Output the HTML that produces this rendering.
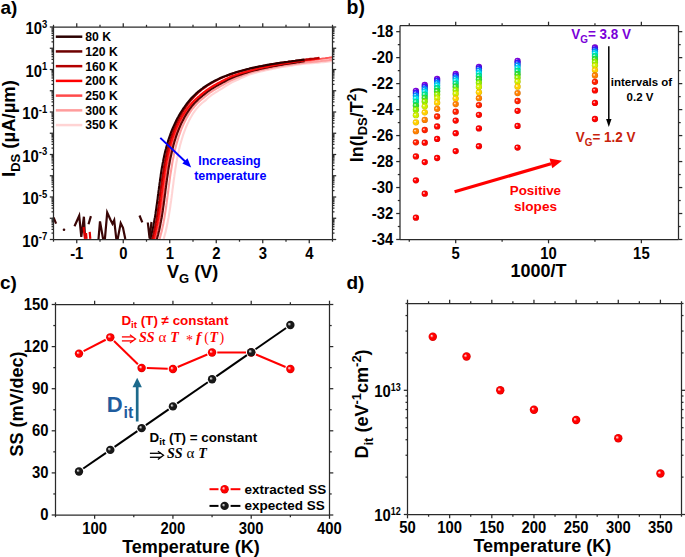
<!DOCTYPE html>
<html><head><meta charset="utf-8"><style>
html,body{margin:0;padding:0;background:#fff;}
svg{display:block;}
</style></head><body>
<svg width="685" height="557" viewBox="0 0 685 557">
<defs><radialGradient id="g0" cx="0.5" cy="0.5" r="0.5" fx="0.33" fy="0.36"><stop offset="0" stop-color="#f2e6fc"/><stop offset="0.14" stop-color="#d7b2f6"/><stop offset="0.42" stop-color="#7a00e0"/><stop offset="0.8" stop-color="#7a00e0"/><stop offset="1" stop-color="#6400b8"/></radialGradient>
<radialGradient id="g1" cx="0.5" cy="0.5" r="0.5" fx="0.33" fy="0.36"><stop offset="0" stop-color="#eae9ff"/><stop offset="0.14" stop-color="#c1bcff"/><stop offset="0.42" stop-color="#3020ff"/><stop offset="0.8" stop-color="#3020ff"/><stop offset="1" stop-color="#271ad1"/></radialGradient>
<radialGradient id="g2" cx="0.5" cy="0.5" r="0.5" fx="0.33" fy="0.36"><stop offset="0" stop-color="#e6f4ff"/><stop offset="0.14" stop-color="#b2deff"/><stop offset="0.42" stop-color="#0090ff"/><stop offset="0.8" stop-color="#0090ff"/><stop offset="1" stop-color="#0076d1"/></radialGradient>
<radialGradient id="g3" cx="0.5" cy="0.5" r="0.5" fx="0.33" fy="0.36"><stop offset="0" stop-color="#e6fcfe"/><stop offset="0.14" stop-color="#b2f6fa"/><stop offset="0.42" stop-color="#00e0f0"/><stop offset="0.8" stop-color="#00e0f0"/><stop offset="1" stop-color="#00b8c5"/></radialGradient>
<radialGradient id="g4" cx="0.5" cy="0.5" r="0.5" fx="0.33" fy="0.36"><stop offset="0" stop-color="#e6fdf4"/><stop offset="0.14" stop-color="#b2f8de"/><stop offset="0.42" stop-color="#00e890"/><stop offset="0.8" stop-color="#00e890"/><stop offset="1" stop-color="#00be76"/></radialGradient>
<radialGradient id="g5" cx="0.5" cy="0.5" r="0.5" fx="0.33" fy="0.36"><stop offset="0" stop-color="#eafcea"/><stop offset="0.14" stop-color="#c1f6c1"/><stop offset="0.42" stop-color="#30e030"/><stop offset="0.8" stop-color="#30e030"/><stop offset="1" stop-color="#27b827"/></radialGradient>
<radialGradient id="g6" cx="0.5" cy="0.5" r="0.5" fx="0.33" fy="0.36"><stop offset="0" stop-color="#f4fee6"/><stop offset="0.14" stop-color="#defab2"/><stop offset="0.42" stop-color="#90f000"/><stop offset="0.8" stop-color="#90f000"/><stop offset="1" stop-color="#76c500"/></radialGradient>
<radialGradient id="g7" cx="0.5" cy="0.5" r="0.5" fx="0.33" fy="0.36"><stop offset="0" stop-color="#fafee6"/><stop offset="0.14" stop-color="#f1fab2"/><stop offset="0.42" stop-color="#d0f000"/><stop offset="0.8" stop-color="#d0f000"/><stop offset="1" stop-color="#abc500"/></radialGradient>
<radialGradient id="g8" cx="0.5" cy="0.5" r="0.5" fx="0.33" fy="0.36"><stop offset="0" stop-color="#fffae6"/><stop offset="0.14" stop-color="#fff1b2"/><stop offset="0.42" stop-color="#ffd000"/><stop offset="0.8" stop-color="#ffd000"/><stop offset="1" stop-color="#d1ab00"/></radialGradient>
<radialGradient id="g9" cx="0.5" cy="0.5" r="0.5" fx="0.33" fy="0.36"><stop offset="0" stop-color="#fff2e6"/><stop offset="0.14" stop-color="#ffd9b2"/><stop offset="0.42" stop-color="#ff8000"/><stop offset="0.8" stop-color="#ff8000"/><stop offset="1" stop-color="#d16900"/></radialGradient>
<radialGradient id="g10" cx="0.5" cy="0.5" r="0.5" fx="0.33" fy="0.36"><stop offset="0" stop-color="#ffe9e6"/><stop offset="0.14" stop-color="#ffbcb2"/><stop offset="0.42" stop-color="#ff2000"/><stop offset="0.8" stop-color="#ff2000"/><stop offset="1" stop-color="#d11a00"/></radialGradient>
<radialGradient id="g11" cx="0.5" cy="0.5" r="0.5" fx="0.33" fy="0.36"><stop offset="0" stop-color="#ffe6e6"/><stop offset="0.14" stop-color="#ffb5b2"/><stop offset="0.42" stop-color="#ff0800"/><stop offset="0.8" stop-color="#ff0800"/><stop offset="1" stop-color="#d10700"/></radialGradient>
<radialGradient id="g12" cx="0.5" cy="0.5" r="0.5" fx="0.33" fy="0.36"><stop offset="0" stop-color="#ffe6e6"/><stop offset="0.14" stop-color="#ffb2b2"/><stop offset="0.42" stop-color="#ff0000"/><stop offset="0.8" stop-color="#ff0000"/><stop offset="1" stop-color="#d10000"/></radialGradient>
<radialGradient id="g13" cx="0.5" cy="0.5" r="0.5" fx="0.33" fy="0.36"><stop offset="0" stop-color="#e8e8e8"/><stop offset="0.14" stop-color="#bababa"/><stop offset="0.42" stop-color="#181818"/><stop offset="0.8" stop-color="#181818"/><stop offset="1" stop-color="#141414"/></radialGradient></defs>
<rect width="685" height="557" fill="#fff"/>
<text x="0.5" y="14.2" font-size="19" text-anchor="start" fill="#000" font-weight="bold" font-family='"Liberation Sans", sans-serif'>a)</text>
<g fill="none" stroke-width="2.1" stroke-linejoin="round" stroke-linecap="butt">
<polyline points="163.2,240.5 163.8,238.6 164.3,236.7 164.8,234.8 165.3,232.9 165.8,231.1 166.2,229.2 166.6,227.3 167.0,225.4 167.4,223.5 167.8,221.6 168.1,219.8 168.5,217.9 168.8,216.0 169.1,214.1 169.4,212.2 169.7,210.3 170.0,208.5 170.3,206.6 170.5,204.7 170.8,202.8 171.1,200.9 171.3,199.1 171.6,197.2 171.8,195.3 172.1,193.4 172.3,191.6 172.5,189.7 172.8,187.8 173.0,186.0 173.3,184.1 173.5,182.2 173.7,180.4 174.0,178.5 174.3,176.7 174.5,174.8 174.8,173.0 175.1,171.1 175.3,169.3 175.6,167.5 175.9,165.6 176.2,163.8 176.5,162.0 176.9,160.2 177.2,158.4 177.6,156.6 177.9,154.8 178.3,153.1 178.7,151.3 179.1,149.6 179.5,147.8 179.9,146.1 180.3,144.4 180.8,142.7 181.3,141.0 181.8,139.3 182.3,137.7 182.8,136.0 183.3,134.4 183.9,132.8 184.5,131.2 185.1,129.6 185.7,128.0 186.3,126.5 187.0,125.0 187.6,123.5 188.3,122.1 189.0,120.6 189.8,119.2 190.5,117.8 191.3,116.5 192.0,115.2 192.8,113.9 193.6,112.7 194.5,111.5 195.3,110.3 196.2,109.2 197.1,108.1 198.0,107.1 198.9,106.1 199.8,105.1 200.8,104.2 201.8,103.3 202.8,102.5 203.8,101.7 204.9,100.9 206.0,99.9 207.1,98.8 208.3,97.8 209.5,96.8 210.8,95.7 212.1,94.7 213.4,93.8 214.8,92.9 216.2,92.0 217.7,91.1 219.1,90.2 220.6,89.3 222.2,88.3 223.7,87.3 225.3,86.3 226.9,85.3 228.6,84.4 230.2,83.4 231.9,82.4 233.6,81.6 235.3,80.8 237.0,80.0 238.8,79.2 240.5,78.4 242.3,77.6 244.1,76.9 245.9,76.1 247.6,75.4 249.5,74.6 251.3,74.0 253.1,73.5 254.9,73.0 256.7,72.5 258.5,72.1 260.4,71.6 262.2,71.2 264.0,70.8 265.9,70.3 267.7,69.9 269.5,69.5 271.4,69.1 273.2,68.7 275.1,68.4 276.9,68.0 278.8,67.6 280.6,67.3 282.5,66.9 284.3,66.7 286.2,66.4 288.0,66.1 289.9,65.8 291.7,65.6 293.6,65.3 295.5,65.0 297.3,64.8 299.2,64.5 301.0,64.2 302.9,64.0 304.8,63.7 306.6,63.5 308.5,63.4 310.3,63.2 312.2,63.1 314.1,62.9 315.9,62.8 317.8,62.6 319.7,62.4 321.5,62.3 323.4,62.1 325.2,61.9 327.1,61.7 329.0,61.5 330.8,61.3 332.7,61.1" stroke="#ffd4d4"/>
<polyline points="159.3,240.2 159.8,238.3 160.3,236.5 160.8,234.6 161.3,232.7 161.8,230.9 162.2,229.0 162.6,227.1 163.0,225.2 163.4,223.4 163.7,221.5 164.1,219.6 164.4,217.8 164.7,215.9 165.0,214.0 165.3,212.1 165.6,210.3 165.9,208.4 166.2,206.5 166.4,204.6 166.7,202.7 166.9,200.9 167.2,199.0 167.4,197.1 167.7,195.2 167.9,193.4 168.2,191.5 168.4,189.6 168.6,187.8 168.9,185.9 169.1,184.0 169.4,182.1 169.6,180.3 169.9,178.4 170.1,176.6 170.4,174.7 170.7,172.9 171.0,171.0 171.3,169.2 171.6,167.3 171.9,165.5 172.2,163.7 172.5,161.8 172.8,160.0 173.2,158.2 173.6,156.4 173.9,154.6 174.3,152.8 174.7,151.0 175.1,149.3 175.6,147.5 176.0,145.8 176.5,144.0 177.0,142.3 177.5,140.6 178.0,138.9 178.5,137.2 179.1,135.5 179.7,133.8 180.3,132.2 180.9,130.5 181.5,128.9 182.2,127.3 182.9,125.7 183.6,124.1 184.3,122.6 185.1,121.1 185.8,119.6 186.6,118.1 187.4,116.7 188.2,115.3 189.1,113.9 189.9,112.5 190.8,111.2 191.7,109.9 192.7,108.7 193.6,107.5 194.6,106.3 195.6,105.2 196.6,104.1 197.6,103.0 198.7,102.0 199.8,101.0 200.9,100.0 202.0,99.1 203.2,98.2 204.4,97.2 205.6,96.1 206.9,95.1 208.2,94.1 209.6,93.0 211.0,92.0 212.4,91.1 213.8,90.2 215.3,89.3 216.8,88.4 218.3,87.5 219.9,86.6 221.5,85.7 223.1,84.8 224.7,83.9 226.3,82.9 228.0,82.0 229.7,81.1 231.4,80.3 233.1,79.5 234.9,78.7 236.6,78.0 238.4,77.3 240.2,76.5 242.0,75.8 243.8,75.1 245.6,74.4 247.4,73.8 249.2,73.1 251.0,72.5 252.9,72.0 254.7,71.6 256.5,71.1 258.4,70.7 260.2,70.2 262.0,69.8 263.9,69.4 265.7,69.0 267.6,68.6 269.4,68.2 271.3,67.9 273.1,67.5 275.0,67.1 276.8,66.8 278.7,66.4 280.5,66.1 282.4,65.8 284.2,65.5 286.1,65.2 288.0,65.0 289.8,64.7 291.7,64.4 293.5,64.2 295.4,63.9 297.3,63.7 299.1,63.4 301.0,63.2 302.8,62.9 304.7,62.6 306.6,62.5 308.4,62.3 310.3,62.1 312.1,61.9 314.0,61.7 315.9,61.6 317.7,61.4 319.6,61.2 321.4,61.0 323.3,60.8 325.2,60.6 327.0,60.4 328.9,60.2 330.7,59.9 332.6,59.7" stroke="#ff9c9c"/>
<polyline points="155.0,240.0 155.5,238.1 156.0,236.3 156.5,234.4 156.9,232.5 157.4,230.7 157.8,228.8 158.2,227.0 158.5,225.1 158.9,223.3 159.3,221.4 159.6,219.5 159.9,217.7 160.2,215.8 160.5,213.9 160.8,212.0 161.1,210.2 161.4,208.3 161.6,206.4 161.9,204.6 162.2,202.7 162.4,200.8 162.7,198.9 162.9,197.1 163.2,195.2 163.4,193.3 163.6,191.4 163.9,189.6 164.1,187.7 164.4,185.8 164.6,183.9 164.9,182.1 165.1,180.2 165.4,178.3 165.6,176.5 165.9,174.6 166.2,172.8 166.5,170.9 166.8,169.1 167.1,167.2 167.4,165.4 167.7,163.5 168.1,161.7 168.4,159.9 168.8,158.1 169.2,156.2 169.6,154.4 170.0,152.6 170.4,150.8 170.8,149.1 171.3,147.3 171.8,145.5 172.3,143.7 172.8,142.0 173.3,140.2 173.9,138.5 174.4,136.8 175.0,135.1 175.7,133.4 176.3,131.7 177.0,130.0 177.7,128.3 178.4,126.7 179.1,125.1 179.9,123.5 180.7,121.9 181.5,120.3 182.3,118.8 183.1,117.2 184.0,115.8 184.9,114.3 185.8,112.8 186.8,111.4 187.8,110.0 188.7,108.7 189.8,107.4 190.8,106.1 191.9,104.8 193.0,103.6 194.1,102.4 195.2,101.3 196.4,100.2 197.6,99.1 198.8,98.1 200.1,97.0 201.3,95.9 202.7,94.8 204.0,93.7 205.4,92.6 206.8,91.6 208.2,90.6 209.7,89.6 211.2,88.6 212.7,87.6 214.3,86.7 215.8,85.8 217.4,84.9 219.0,84.0 220.7,83.1 222.3,82.1 224.0,81.2 225.7,80.3 227.4,79.4 229.2,78.6 230.9,77.7 232.7,77.1 234.5,76.4 236.2,75.7 238.0,75.1 239.8,74.5 241.7,73.9 243.5,73.3 245.3,72.7 247.1,72.1 249.0,71.6 250.8,71.0 252.6,70.6 254.5,70.1 256.3,69.6 258.2,69.2 260.0,68.8 261.9,68.4 263.7,67.9 265.6,67.5 267.4,67.2 269.3,66.8 271.1,66.4 273.0,66.0 274.9,65.7 276.7,65.3 278.6,65.0 280.4,64.6 282.3,64.3 284.2,64.0 286.0,63.7 287.9,63.4 289.7,63.1 291.6,62.8 293.5,62.5 295.3,62.2 297.2,62.0 299.0,61.7 300.9,61.4 302.8,61.1 304.6,60.8 306.5,60.6 308.3,60.4 310.2,60.2 312.1,59.9 313.9,59.7 315.8,59.5 317.6,59.3 319.5,59.0 321.3,58.8 323.2,58.5 325.1,58.3 326.9,58.0 328.8,57.8 330.6,57.5 332.5,57.2" stroke="#ff5a5a"/>
<polyline points="156.7,240.0 157.2,238.1 157.7,236.3 158.2,234.4 158.6,232.6 159.1,230.7 159.5,228.9 159.9,227.0 160.3,225.1 160.6,223.3 161.0,221.4 161.3,219.5 161.7,217.7 162.0,215.8 162.3,213.9 162.6,212.1 162.9,210.2 163.1,208.3 163.4,206.4 163.7,204.6 163.9,202.7 164.2,200.8 164.4,198.9 164.7,197.1 164.9,195.2 165.2,193.3 165.4,191.4 165.6,189.6 165.9,187.7 166.1,185.8 166.4,184.0 166.6,182.1 166.9,180.2 167.1,178.4 167.4,176.5 167.7,174.6 168.0,172.8 168.2,170.9 168.5,169.1 168.8,167.2 169.1,165.4 169.5,163.6 169.8,161.7 170.1,159.9 170.5,158.1 170.9,156.3 171.3,154.5 171.7,152.7 172.1,150.9 172.5,149.1 173.0,147.3 173.4,145.5 173.9,143.8 174.4,142.0 174.9,140.3 175.5,138.5 176.0,136.8 176.6,135.1 177.2,133.4 177.9,131.7 178.5,130.1 179.2,128.4 179.9,126.8 180.6,125.1 181.3,123.5 182.1,122.0 182.9,120.4 183.7,118.9 184.5,117.3 185.3,115.9 186.2,114.4 187.1,113.0 188.0,111.6 189.0,110.2 189.9,108.8 190.9,107.5 191.9,106.2 192.9,105.0 194.0,103.8 195.1,102.6 196.2,101.5 197.3,100.4 198.4,99.3 199.6,98.3 200.8,97.3 202.1,96.2 203.3,95.1 204.6,94.1 206.0,93.0 207.3,91.9 208.8,90.9 210.2,89.9 211.6,88.9 213.1,88.0 214.7,87.1 216.2,86.2 217.8,85.3 219.4,84.4 221.0,83.5 222.6,82.6 224.3,81.7 226.0,80.8 227.7,79.9 229.4,79.0 231.1,78.2 232.9,77.5 234.6,76.8 236.4,76.1 238.2,75.5 240.0,74.8 241.8,74.2 243.6,73.6 245.4,73.0 247.2,72.4 249.1,71.8 250.9,71.3 252.7,70.8 254.6,70.3 256.4,69.9 258.3,69.4 260.1,69.0 261.9,68.6 263.8,68.2 265.6,67.8 267.5,67.4 269.3,67.0 271.2,66.7 273.0,66.3 274.9,65.9 276.8,65.6 278.6,65.3 280.5,64.9 282.3,64.6 284.2,64.3 286.0,64.0 287.9,63.7 289.8,63.4 291.6,63.2 293.5,62.9 295.3,62.6 297.2,62.3 299.1,62.1 300.9,61.8 302.8,61.5 304.6,61.2" stroke="#5a0505"/>
<polyline points="153.5,239.8 154.0,238.0 154.5,236.1 155.0,234.3 155.4,232.5 155.8,230.6 156.2,228.8 156.6,226.9 157.0,225.0 157.4,223.2 157.7,221.3 158.0,219.5 158.4,217.6 158.7,215.7 159.0,213.9 159.3,212.0 159.5,210.1 159.8,208.3 160.1,206.4 160.3,204.5 160.6,202.7 160.8,200.8 161.1,198.9 161.3,197.0 161.6,195.2 161.8,193.3 162.1,191.4 162.3,189.5 162.5,187.7 162.8,185.8 163.0,183.9 163.3,182.0 163.5,180.2 163.8,178.3 164.1,176.4 164.4,174.6 164.6,172.7 164.9,170.9 165.2,169.0 165.5,167.2 165.9,165.3 166.2,163.5 166.5,161.6 166.9,159.8 167.3,158.0 167.6,156.2 168.0,154.3 168.5,152.5 168.9,150.7 169.3,148.9 169.8,147.1 170.3,145.4 170.8,143.6 171.3,141.8 171.9,140.1 172.4,138.3 173.0,136.6 173.6,134.9 174.3,133.1 174.9,131.4 175.6,129.7 176.3,128.1 177.0,126.4 177.8,124.7 178.6,123.1 179.4,121.5 180.2,119.9 181.1,118.3 181.9,116.8 182.8,115.3 183.8,113.8 184.7,112.3 185.7,110.9 186.7,109.4 187.7,108.1 188.8,106.7 189.8,105.4 190.9,104.1 192.1,102.8 193.2,101.6 194.4,100.4 195.6,99.3 196.8,98.2 198.1,97.1 199.4,96.0 200.7,94.8 202.1,93.7 203.4,92.6 204.8,91.5 206.3,90.4 207.8,89.4 209.3,88.4 210.8,87.4 212.3,86.5 213.9,85.5 215.5,84.6 217.1,83.7 218.8,82.8 220.4,81.9 222.1,81.0 223.8,80.1 225.5,79.3 227.2,78.4 229.0,77.6 230.7,76.8 232.5,76.1 234.3,75.5 236.1,74.8 237.9,74.2 239.7,73.6 241.5,73.1 243.4,72.5 245.2,71.9 247.0,71.4 248.9,70.9 250.7,70.4 252.6,69.9 254.4,69.5 256.3,69.0 258.1,68.6 260.0,68.2 261.8,67.7 263.7,67.3 265.5,67.0 267.4,66.6 269.2,66.2 271.1,65.8 273.0,65.5 274.8,65.1 276.7,64.8 278.5,64.4 280.4,64.1 282.3,63.8 284.1,63.5 286.0,63.2 287.8,62.9 289.7,62.6 291.6,62.3 293.4,62.0 295.3,61.7 297.2,61.4 299.0,61.1 300.9,60.9 302.7,60.6 304.6,60.3 306.5,60.0 308.3,59.8 310.2,59.6 312.0,59.3 313.9,59.1 315.7,58.9 317.6,58.6 319.5,58.4" stroke="#ff0a0a"/>
<polyline points="152.0,239.4 152.5,237.6 153.0,235.8 153.5,234.0 153.9,232.1 154.3,230.3 154.7,228.5 155.1,226.6 155.5,224.8 155.8,223.0 156.2,221.1 156.5,219.3 156.8,217.4 157.1,215.6 157.4,213.7 157.7,211.9 158.0,210.0 158.2,208.1 158.5,206.3 158.8,204.4 159.0,202.5 159.3,200.7 159.5,198.8 159.8,196.9 160.0,195.1 160.2,193.2 160.5,191.3 160.7,189.4 161.0,187.6 161.2,185.7 161.5,183.8 161.7,181.9 162.0,180.1 162.2,178.2 162.5,176.3 162.8,174.4 163.1,172.6 163.4,170.7 163.7,168.8 164.0,167.0 164.3,165.1 164.6,163.3 165.0,161.4 165.3,159.6 165.7,157.7 166.1,155.9 166.5,154.0 166.9,152.2 167.4,150.4 167.8,148.5 168.3,146.7 168.8,144.9 169.3,143.1 169.9,141.3 170.4,139.5 171.0,137.7 171.6,135.9 172.2,134.1 172.9,132.3 173.5,130.5 174.2,128.8 175.0,127.0 175.7,125.3 176.5,123.6 177.3,121.9 178.1,120.2 179.0,118.5 179.8,116.8 180.7,115.2 181.7,113.6 182.6,112.0 183.6,110.4 184.6,108.8 185.6,107.3 186.7,105.8 187.7,104.3 188.9,102.9 190.0,101.4 191.1,100.0 192.3,98.7 193.6,97.3 194.8,96.0 196.1,94.8 197.4,93.5 198.7,92.3 200.1,91.1 201.4,90.0 202.9,88.9 204.3,87.8 205.8,86.8 207.3,85.7 208.8,84.8 210.4,83.8 211.9,82.9 213.5,82.0 215.2,81.1 216.8,80.3 218.5,79.4 220.1,78.6 221.8,77.9 223.6,77.1 225.3,76.4 227.0,75.7 228.8,75.0 230.6,74.4 232.4,73.7 234.2,73.1 236.0,72.6 237.8,72.0 239.6,71.4 241.4,70.9 243.3,70.4 245.1,69.9 246.9,69.4 248.8,69.0 250.6,68.5 252.5,68.1 254.3,67.7 256.2,67.3 258.1,66.9 259.9,66.5 261.8,66.1 263.6,65.8 265.5,65.4 267.3,65.1 269.2,64.8 271.1,64.4 272.9,64.1 274.8,63.8 276.6,63.5 278.5,63.2 280.4,62.9 282.2,62.7 284.1,62.4 286.0,62.1 287.8,61.9 289.7,61.6 291.5,61.4 293.4,61.1 295.3,60.9 297.1,60.6 299.0,60.4 300.8,60.1 302.7,59.9 304.6,59.7 306.4,59.4 308.3,59.2 310.1,58.9 312.0,58.7 313.9,58.5 315.7,58.2 317.6,58.0 319.4,57.7" stroke="#b40000"/>
<polyline points="150.2,239.3 150.7,237.5 151.1,235.7 151.6,233.9 152.0,232.1 152.4,230.3 152.8,228.5 153.2,226.6 153.5,224.8 153.9,222.9 154.2,221.1 154.5,219.3 154.9,217.4 155.2,215.6 155.5,213.7 155.7,211.8 156.0,210.0 156.3,208.1 156.5,206.3 156.8,204.4 157.1,202.5 157.3,200.7 157.6,198.8 157.8,196.9 158.0,195.0 158.3,193.2 158.5,191.3 158.8,189.4 159.0,187.5 159.3,185.7 159.5,183.8 159.8,181.9 160.0,180.0 160.3,178.2 160.6,176.3 160.8,174.4 161.1,172.6 161.4,170.7 161.7,168.8 162.0,167.0 162.4,165.1 162.7,163.2 163.1,161.4 163.4,159.5 163.8,157.7 164.2,155.8 164.6,154.0 165.0,152.1 165.5,150.3 166.0,148.5 166.4,146.7 167.0,144.8 167.5,143.0 168.0,141.2 168.6,139.4 169.2,137.6 169.8,135.8 170.5,134.0 171.1,132.2 171.8,130.4 172.5,128.7 173.3,126.9 174.1,125.2 174.9,123.4 175.7,121.7 176.5,120.0 177.4,118.3 178.3,116.7 179.2,115.0 180.2,113.4 181.2,111.8 182.2,110.2 183.2,108.6 184.3,107.1 185.4,105.5 186.5,104.0 187.6,102.6 188.8,101.1 190.0,99.7 191.2,98.3 192.5,97.0 193.8,95.7 195.1,94.4 196.5,93.1 197.8,91.9 199.3,90.7 200.7,89.6 202.2,88.5 203.6,87.4 205.2,86.3 206.7,85.3 208.3,84.3 209.9,83.4 211.5,82.5 213.1,81.6 214.7,80.7 216.4,79.9 218.1,79.1 219.8,78.3 221.5,77.5 223.3,76.8 225.0,76.1 226.8,75.4 228.6,74.7 230.4,74.1 232.2,73.5 234.0,72.9 235.8,72.3 237.6,71.7 239.4,71.2 241.3,70.7 243.1,70.2 245.0,69.7 246.8,69.2 248.7,68.8 250.5,68.3 252.4,67.9 254.3,67.5 256.1,67.1 258.0,66.7 259.8,66.3 261.7,66.0 263.6,65.6 265.4,65.3 267.3,64.9 269.1,64.6 271.0,64.3 272.9,64.0 274.7,63.7 276.6,63.4 278.5,63.1 280.3,62.8 282.2,62.5 284.0,62.3 285.9,62.0 287.8,61.8 289.6,61.5 291.5,61.3 293.4,61.0 295.2,60.8 297.1,60.5 299.0,60.3 300.8,60.1 302.7,59.8 304.5,59.6" stroke="#2b0000"/>
</g>
<g fill="none" stroke-width="2.2" stroke-linejoin="miter">
<polyline points="53.5,217.3 56.1,223.7" stroke="#3a0606"/>
<polyline points="74.5,226.3 79.2,215.7 81.3,236.8 83.9,216.7 85,236.5" stroke="#3a0606"/>
<polyline points="88.5,224.3 90.9,216.1" stroke="#3a0606"/>
<polyline points="98.5,239 100,221.4 103.1,239 104.9,239 107.2,212.6 110.7,220.2 112.5,223.7 114.2,220.2 116.3,239 117.7,239 120.7,223.1 123,227.8 125.3,239" stroke="#3a0606"/>
<polyline points="147.8,222.5 149.6,238.5 151.5,222" stroke="#3a0606"/>
<polyline points="139.5,215.5 142.3,222.3" stroke="#3a0606"/>
<polyline points="83.6,227 85,238.9" stroke="#e00000"/>
<polyline points="86,233 86.6,238.9" stroke="#e00000"/>
<polyline points="89.7,231.9 90.3,238.9" stroke="#e00000"/>
<circle cx="64" cy="229.8" r="1.3" fill="#3a0606"/>
</g>
<rect x="40" y="240.2" width="300" height="6" fill="#fff"/>
<line x1="55.8" y1="36.7" x2="82.3" y2="36.7" stroke="#2b0000" stroke-width="2.5"/>
<text x="85.2" y="41.1" font-size="12.2" text-anchor="start" fill="#000" font-weight="bold" font-family='"Liberation Sans", sans-serif'>80 K</text>
<line x1="55.8" y1="51.43" x2="82.3" y2="51.43" stroke="#6e0000" stroke-width="2.5"/>
<text x="85.2" y="55.83" font-size="12.2" text-anchor="start" fill="#000" font-weight="bold" font-family='"Liberation Sans", sans-serif'>120 K</text>
<line x1="55.8" y1="66.16" x2="82.3" y2="66.16" stroke="#b40000" stroke-width="2.5"/>
<text x="85.2" y="70.56" font-size="12.2" text-anchor="start" fill="#000" font-weight="bold" font-family='"Liberation Sans", sans-serif'>160 K</text>
<line x1="55.8" y1="80.89" x2="82.3" y2="80.89" stroke="#ff0000" stroke-width="2.5"/>
<text x="85.2" y="85.29" font-size="12.2" text-anchor="start" fill="#000" font-weight="bold" font-family='"Liberation Sans", sans-serif'>200 K</text>
<line x1="55.8" y1="95.62" x2="82.3" y2="95.62" stroke="#ff4a4a" stroke-width="2.5"/>
<text x="85.2" y="100.02" font-size="12.2" text-anchor="start" fill="#000" font-weight="bold" font-family='"Liberation Sans", sans-serif'>250 K</text>
<line x1="55.8" y1="110.35" x2="82.3" y2="110.35" stroke="#ff9c9c" stroke-width="2.5"/>
<text x="85.2" y="114.75" font-size="12.2" text-anchor="start" fill="#000" font-weight="bold" font-family='"Liberation Sans", sans-serif'>300 K</text>
<line x1="55.8" y1="125.08" x2="82.3" y2="125.08" stroke="#ffd4d4" stroke-width="2.5"/>
<text x="85.2" y="129.48" font-size="12.2" text-anchor="start" fill="#000" font-weight="bold" font-family='"Liberation Sans", sans-serif'>350 K</text>
<line x1="160.3" y1="137.9" x2="186.5" y2="162.8" stroke="#0000ff" stroke-width="2"/>
<polygon points="191.2,167.4 182.3,163.5 187.5,158.2" fill="#0000ff"/>
<text x="229.5" y="164.7" font-size="12.5" text-anchor="middle" fill="#0000ff" font-weight="bold" font-family='"Liberation Sans", sans-serif'>Increasing</text>
<text x="230.3" y="179.6" font-size="12.5" text-anchor="middle" fill="#0000ff" font-weight="bold" font-family='"Liberation Sans", sans-serif'>temperature</text>
<line x1="53.5" y1="27" x2="53.5" y2="239.5" stroke="#2a2a2a" stroke-width="1.25"/>
<line x1="53.5" y1="27" x2="332.5" y2="27" stroke="#2a2a2a" stroke-width="1.25"/>
<line x1="332.5" y1="27" x2="332.5" y2="239.5" stroke="#2a2a2a" stroke-width="1.25"/>
<line x1="53.5" y1="239.5" x2="332.5" y2="239.5" stroke="#2a2a2a" stroke-width="1.25"/>
<line x1="53.5" y1="239.5" x2="53.5" y2="241.7" stroke="#2a2a2a" stroke-width="1.25"/>
<line x1="53.5" y1="27" x2="53.5" y2="24.8" stroke="#2a2a2a" stroke-width="1.25"/>
<line x1="76.75" y1="239.5" x2="76.75" y2="243.3" stroke="#2a2a2a" stroke-width="1.25"/>
<line x1="76.75" y1="27" x2="76.75" y2="23.2" stroke="#2a2a2a" stroke-width="1.25"/>
<line x1="100" y1="239.5" x2="100" y2="241.7" stroke="#2a2a2a" stroke-width="1.25"/>
<line x1="100" y1="27" x2="100" y2="24.8" stroke="#2a2a2a" stroke-width="1.25"/>
<line x1="123.25" y1="239.5" x2="123.25" y2="243.3" stroke="#2a2a2a" stroke-width="1.25"/>
<line x1="123.25" y1="27" x2="123.25" y2="23.2" stroke="#2a2a2a" stroke-width="1.25"/>
<line x1="146.5" y1="239.5" x2="146.5" y2="241.7" stroke="#2a2a2a" stroke-width="1.25"/>
<line x1="146.5" y1="27" x2="146.5" y2="24.8" stroke="#2a2a2a" stroke-width="1.25"/>
<line x1="169.75" y1="239.5" x2="169.75" y2="243.3" stroke="#2a2a2a" stroke-width="1.25"/>
<line x1="169.75" y1="27" x2="169.75" y2="23.2" stroke="#2a2a2a" stroke-width="1.25"/>
<line x1="193" y1="239.5" x2="193" y2="241.7" stroke="#2a2a2a" stroke-width="1.25"/>
<line x1="193" y1="27" x2="193" y2="24.8" stroke="#2a2a2a" stroke-width="1.25"/>
<line x1="216.25" y1="239.5" x2="216.25" y2="243.3" stroke="#2a2a2a" stroke-width="1.25"/>
<line x1="216.25" y1="27" x2="216.25" y2="23.2" stroke="#2a2a2a" stroke-width="1.25"/>
<line x1="239.5" y1="239.5" x2="239.5" y2="241.7" stroke="#2a2a2a" stroke-width="1.25"/>
<line x1="239.5" y1="27" x2="239.5" y2="24.8" stroke="#2a2a2a" stroke-width="1.25"/>
<line x1="262.75" y1="239.5" x2="262.75" y2="243.3" stroke="#2a2a2a" stroke-width="1.25"/>
<line x1="262.75" y1="27" x2="262.75" y2="23.2" stroke="#2a2a2a" stroke-width="1.25"/>
<line x1="286" y1="239.5" x2="286" y2="241.7" stroke="#2a2a2a" stroke-width="1.25"/>
<line x1="286" y1="27" x2="286" y2="24.8" stroke="#2a2a2a" stroke-width="1.25"/>
<line x1="309.25" y1="239.5" x2="309.25" y2="243.3" stroke="#2a2a2a" stroke-width="1.25"/>
<line x1="309.25" y1="27" x2="309.25" y2="23.2" stroke="#2a2a2a" stroke-width="1.25"/>
<line x1="332.5" y1="239.5" x2="332.5" y2="241.7" stroke="#2a2a2a" stroke-width="1.25"/>
<line x1="332.5" y1="27" x2="332.5" y2="24.8" stroke="#2a2a2a" stroke-width="1.25"/>
<text transform="translate(76.75,258.5) scale(0.9,1)" font-size="16.5" text-anchor="middle" font-weight="bold" font-family='"Liberation Sans", sans-serif'>-1</text>
<text transform="translate(123.25,258.5) scale(0.9,1)" font-size="16.5" text-anchor="middle" font-weight="bold" font-family='"Liberation Sans", sans-serif'>0</text>
<text transform="translate(169.75,258.5) scale(0.9,1)" font-size="16.5" text-anchor="middle" font-weight="bold" font-family='"Liberation Sans", sans-serif'>1</text>
<text transform="translate(216.25,258.5) scale(0.9,1)" font-size="16.5" text-anchor="middle" font-weight="bold" font-family='"Liberation Sans", sans-serif'>2</text>
<text transform="translate(262.75,258.5) scale(0.9,1)" font-size="16.5" text-anchor="middle" font-weight="bold" font-family='"Liberation Sans", sans-serif'>3</text>
<text transform="translate(309.25,258.5) scale(0.9,1)" font-size="16.5" text-anchor="middle" font-weight="bold" font-family='"Liberation Sans", sans-serif'>4</text>
<line x1="53.5" y1="239.5" x2="49.8" y2="239.5" stroke="#2a2a2a" stroke-width="1.25"/>
<line x1="332.5" y1="239.5" x2="336.2" y2="239.5" stroke="#2a2a2a" stroke-width="1.25"/>
<line x1="53.5" y1="233.1" x2="51.5" y2="233.1" stroke="#2a2a2a" stroke-width="1.25"/>
<line x1="332.5" y1="233.1" x2="334.5" y2="233.1" stroke="#2a2a2a" stroke-width="1.25"/>
<line x1="53.5" y1="229.36" x2="51.5" y2="229.36" stroke="#2a2a2a" stroke-width="1.25"/>
<line x1="332.5" y1="229.36" x2="334.5" y2="229.36" stroke="#2a2a2a" stroke-width="1.25"/>
<line x1="53.5" y1="226.71" x2="51.5" y2="226.71" stroke="#2a2a2a" stroke-width="1.25"/>
<line x1="332.5" y1="226.71" x2="334.5" y2="226.71" stroke="#2a2a2a" stroke-width="1.25"/>
<line x1="53.5" y1="224.65" x2="51.5" y2="224.65" stroke="#2a2a2a" stroke-width="1.25"/>
<line x1="332.5" y1="224.65" x2="334.5" y2="224.65" stroke="#2a2a2a" stroke-width="1.25"/>
<line x1="53.5" y1="222.96" x2="51.5" y2="222.96" stroke="#2a2a2a" stroke-width="1.25"/>
<line x1="332.5" y1="222.96" x2="334.5" y2="222.96" stroke="#2a2a2a" stroke-width="1.25"/>
<line x1="53.5" y1="221.54" x2="51.5" y2="221.54" stroke="#2a2a2a" stroke-width="1.25"/>
<line x1="332.5" y1="221.54" x2="334.5" y2="221.54" stroke="#2a2a2a" stroke-width="1.25"/>
<line x1="53.5" y1="220.31" x2="51.5" y2="220.31" stroke="#2a2a2a" stroke-width="1.25"/>
<line x1="332.5" y1="220.31" x2="334.5" y2="220.31" stroke="#2a2a2a" stroke-width="1.25"/>
<line x1="53.5" y1="219.22" x2="51.5" y2="219.22" stroke="#2a2a2a" stroke-width="1.25"/>
<line x1="332.5" y1="219.22" x2="334.5" y2="219.22" stroke="#2a2a2a" stroke-width="1.25"/>
<line x1="53.5" y1="218.25" x2="49.8" y2="218.25" stroke="#2a2a2a" stroke-width="1.25"/>
<line x1="332.5" y1="218.25" x2="336.2" y2="218.25" stroke="#2a2a2a" stroke-width="1.25"/>
<line x1="53.5" y1="211.85" x2="51.5" y2="211.85" stroke="#2a2a2a" stroke-width="1.25"/>
<line x1="332.5" y1="211.85" x2="334.5" y2="211.85" stroke="#2a2a2a" stroke-width="1.25"/>
<line x1="53.5" y1="208.11" x2="51.5" y2="208.11" stroke="#2a2a2a" stroke-width="1.25"/>
<line x1="332.5" y1="208.11" x2="334.5" y2="208.11" stroke="#2a2a2a" stroke-width="1.25"/>
<line x1="53.5" y1="205.46" x2="51.5" y2="205.46" stroke="#2a2a2a" stroke-width="1.25"/>
<line x1="332.5" y1="205.46" x2="334.5" y2="205.46" stroke="#2a2a2a" stroke-width="1.25"/>
<line x1="53.5" y1="203.4" x2="51.5" y2="203.4" stroke="#2a2a2a" stroke-width="1.25"/>
<line x1="332.5" y1="203.4" x2="334.5" y2="203.4" stroke="#2a2a2a" stroke-width="1.25"/>
<line x1="53.5" y1="201.71" x2="51.5" y2="201.71" stroke="#2a2a2a" stroke-width="1.25"/>
<line x1="332.5" y1="201.71" x2="334.5" y2="201.71" stroke="#2a2a2a" stroke-width="1.25"/>
<line x1="53.5" y1="200.29" x2="51.5" y2="200.29" stroke="#2a2a2a" stroke-width="1.25"/>
<line x1="332.5" y1="200.29" x2="334.5" y2="200.29" stroke="#2a2a2a" stroke-width="1.25"/>
<line x1="53.5" y1="199.06" x2="51.5" y2="199.06" stroke="#2a2a2a" stroke-width="1.25"/>
<line x1="332.5" y1="199.06" x2="334.5" y2="199.06" stroke="#2a2a2a" stroke-width="1.25"/>
<line x1="53.5" y1="197.97" x2="51.5" y2="197.97" stroke="#2a2a2a" stroke-width="1.25"/>
<line x1="332.5" y1="197.97" x2="334.5" y2="197.97" stroke="#2a2a2a" stroke-width="1.25"/>
<line x1="53.5" y1="197" x2="49.8" y2="197" stroke="#2a2a2a" stroke-width="1.25"/>
<line x1="332.5" y1="197" x2="336.2" y2="197" stroke="#2a2a2a" stroke-width="1.25"/>
<line x1="53.5" y1="190.6" x2="51.5" y2="190.6" stroke="#2a2a2a" stroke-width="1.25"/>
<line x1="332.5" y1="190.6" x2="334.5" y2="190.6" stroke="#2a2a2a" stroke-width="1.25"/>
<line x1="53.5" y1="186.86" x2="51.5" y2="186.86" stroke="#2a2a2a" stroke-width="1.25"/>
<line x1="332.5" y1="186.86" x2="334.5" y2="186.86" stroke="#2a2a2a" stroke-width="1.25"/>
<line x1="53.5" y1="184.21" x2="51.5" y2="184.21" stroke="#2a2a2a" stroke-width="1.25"/>
<line x1="332.5" y1="184.21" x2="334.5" y2="184.21" stroke="#2a2a2a" stroke-width="1.25"/>
<line x1="53.5" y1="182.15" x2="51.5" y2="182.15" stroke="#2a2a2a" stroke-width="1.25"/>
<line x1="332.5" y1="182.15" x2="334.5" y2="182.15" stroke="#2a2a2a" stroke-width="1.25"/>
<line x1="53.5" y1="180.46" x2="51.5" y2="180.46" stroke="#2a2a2a" stroke-width="1.25"/>
<line x1="332.5" y1="180.46" x2="334.5" y2="180.46" stroke="#2a2a2a" stroke-width="1.25"/>
<line x1="53.5" y1="179.04" x2="51.5" y2="179.04" stroke="#2a2a2a" stroke-width="1.25"/>
<line x1="332.5" y1="179.04" x2="334.5" y2="179.04" stroke="#2a2a2a" stroke-width="1.25"/>
<line x1="53.5" y1="177.81" x2="51.5" y2="177.81" stroke="#2a2a2a" stroke-width="1.25"/>
<line x1="332.5" y1="177.81" x2="334.5" y2="177.81" stroke="#2a2a2a" stroke-width="1.25"/>
<line x1="53.5" y1="176.72" x2="51.5" y2="176.72" stroke="#2a2a2a" stroke-width="1.25"/>
<line x1="332.5" y1="176.72" x2="334.5" y2="176.72" stroke="#2a2a2a" stroke-width="1.25"/>
<line x1="53.5" y1="175.75" x2="49.8" y2="175.75" stroke="#2a2a2a" stroke-width="1.25"/>
<line x1="332.5" y1="175.75" x2="336.2" y2="175.75" stroke="#2a2a2a" stroke-width="1.25"/>
<line x1="53.5" y1="169.35" x2="51.5" y2="169.35" stroke="#2a2a2a" stroke-width="1.25"/>
<line x1="332.5" y1="169.35" x2="334.5" y2="169.35" stroke="#2a2a2a" stroke-width="1.25"/>
<line x1="53.5" y1="165.61" x2="51.5" y2="165.61" stroke="#2a2a2a" stroke-width="1.25"/>
<line x1="332.5" y1="165.61" x2="334.5" y2="165.61" stroke="#2a2a2a" stroke-width="1.25"/>
<line x1="53.5" y1="162.96" x2="51.5" y2="162.96" stroke="#2a2a2a" stroke-width="1.25"/>
<line x1="332.5" y1="162.96" x2="334.5" y2="162.96" stroke="#2a2a2a" stroke-width="1.25"/>
<line x1="53.5" y1="160.9" x2="51.5" y2="160.9" stroke="#2a2a2a" stroke-width="1.25"/>
<line x1="332.5" y1="160.9" x2="334.5" y2="160.9" stroke="#2a2a2a" stroke-width="1.25"/>
<line x1="53.5" y1="159.21" x2="51.5" y2="159.21" stroke="#2a2a2a" stroke-width="1.25"/>
<line x1="332.5" y1="159.21" x2="334.5" y2="159.21" stroke="#2a2a2a" stroke-width="1.25"/>
<line x1="53.5" y1="157.79" x2="51.5" y2="157.79" stroke="#2a2a2a" stroke-width="1.25"/>
<line x1="332.5" y1="157.79" x2="334.5" y2="157.79" stroke="#2a2a2a" stroke-width="1.25"/>
<line x1="53.5" y1="156.56" x2="51.5" y2="156.56" stroke="#2a2a2a" stroke-width="1.25"/>
<line x1="332.5" y1="156.56" x2="334.5" y2="156.56" stroke="#2a2a2a" stroke-width="1.25"/>
<line x1="53.5" y1="155.47" x2="51.5" y2="155.47" stroke="#2a2a2a" stroke-width="1.25"/>
<line x1="332.5" y1="155.47" x2="334.5" y2="155.47" stroke="#2a2a2a" stroke-width="1.25"/>
<line x1="53.5" y1="154.5" x2="49.8" y2="154.5" stroke="#2a2a2a" stroke-width="1.25"/>
<line x1="332.5" y1="154.5" x2="336.2" y2="154.5" stroke="#2a2a2a" stroke-width="1.25"/>
<line x1="53.5" y1="148.1" x2="51.5" y2="148.1" stroke="#2a2a2a" stroke-width="1.25"/>
<line x1="332.5" y1="148.1" x2="334.5" y2="148.1" stroke="#2a2a2a" stroke-width="1.25"/>
<line x1="53.5" y1="144.36" x2="51.5" y2="144.36" stroke="#2a2a2a" stroke-width="1.25"/>
<line x1="332.5" y1="144.36" x2="334.5" y2="144.36" stroke="#2a2a2a" stroke-width="1.25"/>
<line x1="53.5" y1="141.71" x2="51.5" y2="141.71" stroke="#2a2a2a" stroke-width="1.25"/>
<line x1="332.5" y1="141.71" x2="334.5" y2="141.71" stroke="#2a2a2a" stroke-width="1.25"/>
<line x1="53.5" y1="139.65" x2="51.5" y2="139.65" stroke="#2a2a2a" stroke-width="1.25"/>
<line x1="332.5" y1="139.65" x2="334.5" y2="139.65" stroke="#2a2a2a" stroke-width="1.25"/>
<line x1="53.5" y1="137.96" x2="51.5" y2="137.96" stroke="#2a2a2a" stroke-width="1.25"/>
<line x1="332.5" y1="137.96" x2="334.5" y2="137.96" stroke="#2a2a2a" stroke-width="1.25"/>
<line x1="53.5" y1="136.54" x2="51.5" y2="136.54" stroke="#2a2a2a" stroke-width="1.25"/>
<line x1="332.5" y1="136.54" x2="334.5" y2="136.54" stroke="#2a2a2a" stroke-width="1.25"/>
<line x1="53.5" y1="135.31" x2="51.5" y2="135.31" stroke="#2a2a2a" stroke-width="1.25"/>
<line x1="332.5" y1="135.31" x2="334.5" y2="135.31" stroke="#2a2a2a" stroke-width="1.25"/>
<line x1="53.5" y1="134.22" x2="51.5" y2="134.22" stroke="#2a2a2a" stroke-width="1.25"/>
<line x1="332.5" y1="134.22" x2="334.5" y2="134.22" stroke="#2a2a2a" stroke-width="1.25"/>
<line x1="53.5" y1="133.25" x2="49.8" y2="133.25" stroke="#2a2a2a" stroke-width="1.25"/>
<line x1="332.5" y1="133.25" x2="336.2" y2="133.25" stroke="#2a2a2a" stroke-width="1.25"/>
<line x1="53.5" y1="126.85" x2="51.5" y2="126.85" stroke="#2a2a2a" stroke-width="1.25"/>
<line x1="332.5" y1="126.85" x2="334.5" y2="126.85" stroke="#2a2a2a" stroke-width="1.25"/>
<line x1="53.5" y1="123.11" x2="51.5" y2="123.11" stroke="#2a2a2a" stroke-width="1.25"/>
<line x1="332.5" y1="123.11" x2="334.5" y2="123.11" stroke="#2a2a2a" stroke-width="1.25"/>
<line x1="53.5" y1="120.46" x2="51.5" y2="120.46" stroke="#2a2a2a" stroke-width="1.25"/>
<line x1="332.5" y1="120.46" x2="334.5" y2="120.46" stroke="#2a2a2a" stroke-width="1.25"/>
<line x1="53.5" y1="118.4" x2="51.5" y2="118.4" stroke="#2a2a2a" stroke-width="1.25"/>
<line x1="332.5" y1="118.4" x2="334.5" y2="118.4" stroke="#2a2a2a" stroke-width="1.25"/>
<line x1="53.5" y1="116.71" x2="51.5" y2="116.71" stroke="#2a2a2a" stroke-width="1.25"/>
<line x1="332.5" y1="116.71" x2="334.5" y2="116.71" stroke="#2a2a2a" stroke-width="1.25"/>
<line x1="53.5" y1="115.29" x2="51.5" y2="115.29" stroke="#2a2a2a" stroke-width="1.25"/>
<line x1="332.5" y1="115.29" x2="334.5" y2="115.29" stroke="#2a2a2a" stroke-width="1.25"/>
<line x1="53.5" y1="114.06" x2="51.5" y2="114.06" stroke="#2a2a2a" stroke-width="1.25"/>
<line x1="332.5" y1="114.06" x2="334.5" y2="114.06" stroke="#2a2a2a" stroke-width="1.25"/>
<line x1="53.5" y1="112.97" x2="51.5" y2="112.97" stroke="#2a2a2a" stroke-width="1.25"/>
<line x1="332.5" y1="112.97" x2="334.5" y2="112.97" stroke="#2a2a2a" stroke-width="1.25"/>
<line x1="53.5" y1="112" x2="49.8" y2="112" stroke="#2a2a2a" stroke-width="1.25"/>
<line x1="332.5" y1="112" x2="336.2" y2="112" stroke="#2a2a2a" stroke-width="1.25"/>
<line x1="53.5" y1="105.6" x2="51.5" y2="105.6" stroke="#2a2a2a" stroke-width="1.25"/>
<line x1="332.5" y1="105.6" x2="334.5" y2="105.6" stroke="#2a2a2a" stroke-width="1.25"/>
<line x1="53.5" y1="101.86" x2="51.5" y2="101.86" stroke="#2a2a2a" stroke-width="1.25"/>
<line x1="332.5" y1="101.86" x2="334.5" y2="101.86" stroke="#2a2a2a" stroke-width="1.25"/>
<line x1="53.5" y1="99.21" x2="51.5" y2="99.21" stroke="#2a2a2a" stroke-width="1.25"/>
<line x1="332.5" y1="99.21" x2="334.5" y2="99.21" stroke="#2a2a2a" stroke-width="1.25"/>
<line x1="53.5" y1="97.15" x2="51.5" y2="97.15" stroke="#2a2a2a" stroke-width="1.25"/>
<line x1="332.5" y1="97.15" x2="334.5" y2="97.15" stroke="#2a2a2a" stroke-width="1.25"/>
<line x1="53.5" y1="95.46" x2="51.5" y2="95.46" stroke="#2a2a2a" stroke-width="1.25"/>
<line x1="332.5" y1="95.46" x2="334.5" y2="95.46" stroke="#2a2a2a" stroke-width="1.25"/>
<line x1="53.5" y1="94.04" x2="51.5" y2="94.04" stroke="#2a2a2a" stroke-width="1.25"/>
<line x1="332.5" y1="94.04" x2="334.5" y2="94.04" stroke="#2a2a2a" stroke-width="1.25"/>
<line x1="53.5" y1="92.81" x2="51.5" y2="92.81" stroke="#2a2a2a" stroke-width="1.25"/>
<line x1="332.5" y1="92.81" x2="334.5" y2="92.81" stroke="#2a2a2a" stroke-width="1.25"/>
<line x1="53.5" y1="91.72" x2="51.5" y2="91.72" stroke="#2a2a2a" stroke-width="1.25"/>
<line x1="332.5" y1="91.72" x2="334.5" y2="91.72" stroke="#2a2a2a" stroke-width="1.25"/>
<line x1="53.5" y1="90.75" x2="49.8" y2="90.75" stroke="#2a2a2a" stroke-width="1.25"/>
<line x1="332.5" y1="90.75" x2="336.2" y2="90.75" stroke="#2a2a2a" stroke-width="1.25"/>
<line x1="53.5" y1="84.35" x2="51.5" y2="84.35" stroke="#2a2a2a" stroke-width="1.25"/>
<line x1="332.5" y1="84.35" x2="334.5" y2="84.35" stroke="#2a2a2a" stroke-width="1.25"/>
<line x1="53.5" y1="80.61" x2="51.5" y2="80.61" stroke="#2a2a2a" stroke-width="1.25"/>
<line x1="332.5" y1="80.61" x2="334.5" y2="80.61" stroke="#2a2a2a" stroke-width="1.25"/>
<line x1="53.5" y1="77.96" x2="51.5" y2="77.96" stroke="#2a2a2a" stroke-width="1.25"/>
<line x1="332.5" y1="77.96" x2="334.5" y2="77.96" stroke="#2a2a2a" stroke-width="1.25"/>
<line x1="53.5" y1="75.9" x2="51.5" y2="75.9" stroke="#2a2a2a" stroke-width="1.25"/>
<line x1="332.5" y1="75.9" x2="334.5" y2="75.9" stroke="#2a2a2a" stroke-width="1.25"/>
<line x1="53.5" y1="74.21" x2="51.5" y2="74.21" stroke="#2a2a2a" stroke-width="1.25"/>
<line x1="332.5" y1="74.21" x2="334.5" y2="74.21" stroke="#2a2a2a" stroke-width="1.25"/>
<line x1="53.5" y1="72.79" x2="51.5" y2="72.79" stroke="#2a2a2a" stroke-width="1.25"/>
<line x1="332.5" y1="72.79" x2="334.5" y2="72.79" stroke="#2a2a2a" stroke-width="1.25"/>
<line x1="53.5" y1="71.56" x2="51.5" y2="71.56" stroke="#2a2a2a" stroke-width="1.25"/>
<line x1="332.5" y1="71.56" x2="334.5" y2="71.56" stroke="#2a2a2a" stroke-width="1.25"/>
<line x1="53.5" y1="70.47" x2="51.5" y2="70.47" stroke="#2a2a2a" stroke-width="1.25"/>
<line x1="332.5" y1="70.47" x2="334.5" y2="70.47" stroke="#2a2a2a" stroke-width="1.25"/>
<line x1="53.5" y1="69.5" x2="49.8" y2="69.5" stroke="#2a2a2a" stroke-width="1.25"/>
<line x1="332.5" y1="69.5" x2="336.2" y2="69.5" stroke="#2a2a2a" stroke-width="1.25"/>
<line x1="53.5" y1="63.1" x2="51.5" y2="63.1" stroke="#2a2a2a" stroke-width="1.25"/>
<line x1="332.5" y1="63.1" x2="334.5" y2="63.1" stroke="#2a2a2a" stroke-width="1.25"/>
<line x1="53.5" y1="59.36" x2="51.5" y2="59.36" stroke="#2a2a2a" stroke-width="1.25"/>
<line x1="332.5" y1="59.36" x2="334.5" y2="59.36" stroke="#2a2a2a" stroke-width="1.25"/>
<line x1="53.5" y1="56.71" x2="51.5" y2="56.71" stroke="#2a2a2a" stroke-width="1.25"/>
<line x1="332.5" y1="56.71" x2="334.5" y2="56.71" stroke="#2a2a2a" stroke-width="1.25"/>
<line x1="53.5" y1="54.65" x2="51.5" y2="54.65" stroke="#2a2a2a" stroke-width="1.25"/>
<line x1="332.5" y1="54.65" x2="334.5" y2="54.65" stroke="#2a2a2a" stroke-width="1.25"/>
<line x1="53.5" y1="52.96" x2="51.5" y2="52.96" stroke="#2a2a2a" stroke-width="1.25"/>
<line x1="332.5" y1="52.96" x2="334.5" y2="52.96" stroke="#2a2a2a" stroke-width="1.25"/>
<line x1="53.5" y1="51.54" x2="51.5" y2="51.54" stroke="#2a2a2a" stroke-width="1.25"/>
<line x1="332.5" y1="51.54" x2="334.5" y2="51.54" stroke="#2a2a2a" stroke-width="1.25"/>
<line x1="53.5" y1="50.31" x2="51.5" y2="50.31" stroke="#2a2a2a" stroke-width="1.25"/>
<line x1="332.5" y1="50.31" x2="334.5" y2="50.31" stroke="#2a2a2a" stroke-width="1.25"/>
<line x1="53.5" y1="49.22" x2="51.5" y2="49.22" stroke="#2a2a2a" stroke-width="1.25"/>
<line x1="332.5" y1="49.22" x2="334.5" y2="49.22" stroke="#2a2a2a" stroke-width="1.25"/>
<line x1="53.5" y1="48.25" x2="49.8" y2="48.25" stroke="#2a2a2a" stroke-width="1.25"/>
<line x1="332.5" y1="48.25" x2="336.2" y2="48.25" stroke="#2a2a2a" stroke-width="1.25"/>
<line x1="53.5" y1="41.85" x2="51.5" y2="41.85" stroke="#2a2a2a" stroke-width="1.25"/>
<line x1="332.5" y1="41.85" x2="334.5" y2="41.85" stroke="#2a2a2a" stroke-width="1.25"/>
<line x1="53.5" y1="38.11" x2="51.5" y2="38.11" stroke="#2a2a2a" stroke-width="1.25"/>
<line x1="332.5" y1="38.11" x2="334.5" y2="38.11" stroke="#2a2a2a" stroke-width="1.25"/>
<line x1="53.5" y1="35.46" x2="51.5" y2="35.46" stroke="#2a2a2a" stroke-width="1.25"/>
<line x1="332.5" y1="35.46" x2="334.5" y2="35.46" stroke="#2a2a2a" stroke-width="1.25"/>
<line x1="53.5" y1="33.4" x2="51.5" y2="33.4" stroke="#2a2a2a" stroke-width="1.25"/>
<line x1="332.5" y1="33.4" x2="334.5" y2="33.4" stroke="#2a2a2a" stroke-width="1.25"/>
<line x1="53.5" y1="31.71" x2="51.5" y2="31.71" stroke="#2a2a2a" stroke-width="1.25"/>
<line x1="332.5" y1="31.71" x2="334.5" y2="31.71" stroke="#2a2a2a" stroke-width="1.25"/>
<line x1="53.5" y1="30.29" x2="51.5" y2="30.29" stroke="#2a2a2a" stroke-width="1.25"/>
<line x1="332.5" y1="30.29" x2="334.5" y2="30.29" stroke="#2a2a2a" stroke-width="1.25"/>
<line x1="53.5" y1="29.06" x2="51.5" y2="29.06" stroke="#2a2a2a" stroke-width="1.25"/>
<line x1="332.5" y1="29.06" x2="334.5" y2="29.06" stroke="#2a2a2a" stroke-width="1.25"/>
<line x1="53.5" y1="27.97" x2="51.5" y2="27.97" stroke="#2a2a2a" stroke-width="1.25"/>
<line x1="332.5" y1="27.97" x2="334.5" y2="27.97" stroke="#2a2a2a" stroke-width="1.25"/>
<line x1="53.5" y1="27" x2="49.8" y2="27" stroke="#2a2a2a" stroke-width="1.25"/>
<line x1="332.5" y1="27" x2="336.2" y2="27" stroke="#2a2a2a" stroke-width="1.25"/>
<text transform="translate(47.2,34) scale(0.9,1)" font-size="16.5" text-anchor="end" font-weight="bold" font-family='"Liberation Sans", sans-serif'>10<tspan font-size="10.5" dy="-6.5">3</tspan></text>
<text transform="translate(47.2,76.5) scale(0.9,1)" font-size="16.5" text-anchor="end" font-weight="bold" font-family='"Liberation Sans", sans-serif'>10<tspan font-size="10.5" dy="-6.5">1</tspan></text>
<text transform="translate(47.2,119) scale(0.9,1)" font-size="16.5" text-anchor="end" font-weight="bold" font-family='"Liberation Sans", sans-serif'>10<tspan font-size="10.5" dy="-6.5">-1</tspan></text>
<text transform="translate(47.2,161.5) scale(0.9,1)" font-size="16.5" text-anchor="end" font-weight="bold" font-family='"Liberation Sans", sans-serif'>10<tspan font-size="10.5" dy="-6.5">-3</tspan></text>
<text transform="translate(47.2,204) scale(0.9,1)" font-size="16.5" text-anchor="end" font-weight="bold" font-family='"Liberation Sans", sans-serif'>10<tspan font-size="10.5" dy="-6.5">-5</tspan></text>
<text transform="translate(47.2,246.5) scale(0.9,1)" font-size="16.5" text-anchor="end" font-weight="bold" font-family='"Liberation Sans", sans-serif'>10<tspan font-size="10.5" dy="-6.5">-7</tspan></text>
<text x="167" y="277.6" font-size="18" font-weight="bold" font-family='"Liberation Sans", sans-serif'>V<tspan font-size="13" dy="5">G</tspan><tspan dy="-5"> (V)</tspan></text>
<text transform="translate(14.9,177) rotate(-90)" font-size="18.5" font-weight="bold" font-family='"Liberation Sans", sans-serif'>I<tspan font-size="13" dy="5.4">DS</tspan><tspan dy="-5.4"> (&#181;A/&#181;m)</tspan></text>
<text x="346.5" y="13.5" font-size="19.5" text-anchor="start" fill="#000" font-weight="bold" font-family='"Liberation Sans", sans-serif'>b)</text>
<circle cx="415.91" cy="90.8" r="3.15" fill="url(#g0)"/>
<circle cx="415.91" cy="92.98" r="3.15" fill="url(#g1)"/>
<circle cx="415.91" cy="95.54" r="3.15" fill="url(#g2)"/>
<circle cx="415.91" cy="98.5" r="3.15" fill="url(#g3)"/>
<circle cx="415.91" cy="101.84" r="3.15" fill="url(#g4)"/>
<circle cx="415.91" cy="105.58" r="3.15" fill="url(#g5)"/>
<circle cx="415.91" cy="109.7" r="3.15" fill="url(#g6)"/>
<circle cx="415.91" cy="115.2" r="3.15" fill="url(#g7)"/>
<circle cx="415.91" cy="122.3" r="3.15" fill="url(#g8)"/>
<circle cx="415.91" cy="131.2" r="3.15" fill="url(#g9)"/>
<circle cx="415.91" cy="142.3" r="3.15" fill="url(#g10)"/>
<circle cx="415.91" cy="156.4" r="3.15" fill="url(#g11)"/>
<circle cx="415.91" cy="180.3" r="3.15" fill="url(#g12)"/>
<circle cx="415.91" cy="217.7" r="3.15" fill="url(#g12)"/>
<circle cx="424.75" cy="85" r="3.15" fill="url(#g0)"/>
<circle cx="424.75" cy="86.9" r="3.15" fill="url(#g1)"/>
<circle cx="424.75" cy="89.14" r="3.15" fill="url(#g2)"/>
<circle cx="424.75" cy="91.72" r="3.15" fill="url(#g3)"/>
<circle cx="424.75" cy="94.64" r="3.15" fill="url(#g4)"/>
<circle cx="424.75" cy="97.9" r="3.15" fill="url(#g5)"/>
<circle cx="424.75" cy="101.5" r="3.15" fill="url(#g6)"/>
<circle cx="424.75" cy="106.3" r="3.15" fill="url(#g7)"/>
<circle cx="424.75" cy="112.3" r="3.15" fill="url(#g8)"/>
<circle cx="424.75" cy="119.9" r="3.15" fill="url(#g9)"/>
<circle cx="424.75" cy="130" r="3.15" fill="url(#g10)"/>
<circle cx="424.75" cy="142.7" r="3.15" fill="url(#g11)"/>
<circle cx="424.75" cy="162.1" r="3.15" fill="url(#g12)"/>
<circle cx="424.75" cy="193.7" r="3.15" fill="url(#g12)"/>
<circle cx="437.13" cy="78.8" r="3.15" fill="url(#g0)"/>
<circle cx="437.13" cy="80.76" r="3.15" fill="url(#g1)"/>
<circle cx="437.13" cy="82.98" r="3.15" fill="url(#g2)"/>
<circle cx="437.13" cy="85.46" r="3.15" fill="url(#g3)"/>
<circle cx="437.13" cy="88.21" r="3.15" fill="url(#g4)"/>
<circle cx="437.13" cy="91.21" r="3.15" fill="url(#g5)"/>
<circle cx="437.13" cy="94.47" r="3.15" fill="url(#g6)"/>
<circle cx="437.13" cy="98" r="3.15" fill="url(#g7)"/>
<circle cx="437.13" cy="102.7" r="3.15" fill="url(#g8)"/>
<circle cx="437.13" cy="108.8" r="3.15" fill="url(#g9)"/>
<circle cx="437.13" cy="116.5" r="3.15" fill="url(#g10)"/>
<circle cx="437.13" cy="126.4" r="3.15" fill="url(#g11)"/>
<circle cx="437.13" cy="138.9" r="3.15" fill="url(#g12)"/>
<circle cx="437.13" cy="158" r="3.15" fill="url(#g12)"/>
<circle cx="455.7" cy="74" r="3.15" fill="url(#g0)"/>
<circle cx="455.7" cy="75.95" r="3.15" fill="url(#g1)"/>
<circle cx="455.7" cy="78.19" r="3.15" fill="url(#g2)"/>
<circle cx="455.7" cy="80.72" r="3.15" fill="url(#g3)"/>
<circle cx="455.7" cy="83.54" r="3.15" fill="url(#g4)"/>
<circle cx="455.7" cy="86.64" r="3.15" fill="url(#g5)"/>
<circle cx="455.7" cy="90.03" r="3.15" fill="url(#g6)"/>
<circle cx="455.7" cy="93.7" r="3.15" fill="url(#g7)"/>
<circle cx="455.7" cy="98.6" r="3.15" fill="url(#g8)"/>
<circle cx="455.7" cy="104.1" r="3.15" fill="url(#g9)"/>
<circle cx="455.7" cy="111.7" r="3.15" fill="url(#g10)"/>
<circle cx="455.7" cy="120.6" r="3.15" fill="url(#g11)"/>
<circle cx="455.7" cy="133.2" r="3.15" fill="url(#g12)"/>
<circle cx="455.7" cy="151.1" r="3.15" fill="url(#g12)"/>
<circle cx="478.91" cy="66.8" r="3.15" fill="url(#g0)"/>
<circle cx="478.91" cy="68.49" r="3.15" fill="url(#g1)"/>
<circle cx="478.91" cy="70.58" r="3.15" fill="url(#g2)"/>
<circle cx="478.91" cy="73.06" r="3.15" fill="url(#g3)"/>
<circle cx="478.91" cy="75.93" r="3.15" fill="url(#g4)"/>
<circle cx="478.91" cy="79.19" r="3.15" fill="url(#g5)"/>
<circle cx="478.91" cy="82.85" r="3.15" fill="url(#g6)"/>
<circle cx="478.91" cy="86.9" r="3.15" fill="url(#g7)"/>
<circle cx="478.91" cy="92.3" r="3.15" fill="url(#g8)"/>
<circle cx="478.91" cy="98.2" r="3.15" fill="url(#g9)"/>
<circle cx="478.91" cy="105.1" r="3.15" fill="url(#g10)"/>
<circle cx="478.91" cy="114.8" r="3.15" fill="url(#g11)"/>
<circle cx="478.91" cy="128.4" r="3.15" fill="url(#g12)"/>
<circle cx="478.91" cy="146.2" r="3.15" fill="url(#g12)"/>
<circle cx="517.58" cy="60.9" r="3.15" fill="url(#g0)"/>
<circle cx="517.58" cy="62.99" r="3.15" fill="url(#g1)"/>
<circle cx="517.58" cy="65.37" r="3.15" fill="url(#g2)"/>
<circle cx="517.58" cy="68.04" r="3.15" fill="url(#g3)"/>
<circle cx="517.58" cy="70.99" r="3.15" fill="url(#g4)"/>
<circle cx="517.58" cy="74.24" r="3.15" fill="url(#g5)"/>
<circle cx="517.58" cy="77.77" r="3.15" fill="url(#g6)"/>
<circle cx="517.58" cy="81.6" r="3.15" fill="url(#g7)"/>
<circle cx="517.58" cy="86.7" r="3.15" fill="url(#g8)"/>
<circle cx="517.58" cy="93.1" r="3.15" fill="url(#g9)"/>
<circle cx="517.58" cy="101" r="3.15" fill="url(#g10)"/>
<circle cx="517.58" cy="110.8" r="3.15" fill="url(#g11)"/>
<circle cx="517.58" cy="125.9" r="3.15" fill="url(#g12)"/>
<circle cx="517.58" cy="147.6" r="3.15" fill="url(#g12)"/>
<circle cx="594.95" cy="47.5" r="3.15" fill="url(#g0)"/>
<circle cx="594.95" cy="49.3" r="3.15" fill="url(#g1)"/>
<circle cx="594.95" cy="51.4" r="3.15" fill="url(#g2)"/>
<circle cx="594.95" cy="53.4" r="3.15" fill="url(#g3)"/>
<circle cx="594.95" cy="56.1" r="3.15" fill="url(#g4)"/>
<circle cx="594.95" cy="59.1" r="3.15" fill="url(#g5)"/>
<circle cx="594.95" cy="62" r="3.15" fill="url(#g6)"/>
<circle cx="594.95" cy="65.6" r="3.15" fill="url(#g7)"/>
<circle cx="594.95" cy="70.1" r="3.15" fill="url(#g8)"/>
<circle cx="594.95" cy="75.5" r="3.15" fill="url(#g9)"/>
<circle cx="594.95" cy="81.8" r="3.15" fill="url(#g10)"/>
<circle cx="594.95" cy="90.4" r="3.15" fill="url(#g11)"/>
<circle cx="594.95" cy="102.9" r="3.15" fill="url(#g12)"/>
<circle cx="594.95" cy="119" r="3.15" fill="url(#g12)"/>
<text transform="translate(571.3,38.9) scale(0.9,1)" font-size="15" font-weight="bold" fill="#7a00d8" font-family='"Liberation Sans", sans-serif'>V<tspan font-size="11" dy="4.2">G</tspan><tspan dy="-4.2">= 3.8 V</tspan></text>
<text transform="translate(575.8,141.6) scale(0.9,1)" font-size="15" font-weight="bold" fill="#c8220c" font-family='"Liberation Sans", sans-serif'>V<tspan font-size="11" dy="4.2">G</tspan><tspan dy="-4.2">= 1.2 V</tspan></text>
<line x1="608.8" y1="46.3" x2="608.8" y2="120" stroke="#000" stroke-width="1.5"/>
<polygon points="608.8,127 606.1,119 611.5,119" fill="#000"/>
<text x="641.5" y="85.9" font-size="11.5" text-anchor="middle" fill="#000" font-weight="bold" font-family='"Liberation Sans", sans-serif'>intervals of</text>
<text x="640" y="100.7" font-size="11.5" text-anchor="middle" fill="#000" font-weight="bold" font-family='"Liberation Sans", sans-serif'>0.2 V</text>
<line x1="454.6" y1="191.7" x2="551" y2="163.8" stroke="#ff0000" stroke-width="3.2"/>
<polygon points="562,160.7 549.5,158.6 552.3,168.2" fill="#ff0000"/>
<text x="535.4" y="194.7" font-size="13.4" text-anchor="middle" fill="#ff0000" font-weight="bold" font-family='"Liberation Sans", sans-serif'>Positive</text>
<text x="535.5" y="211.2" font-size="13.6" text-anchor="middle" fill="#ff0000" font-weight="bold" font-family='"Liberation Sans", sans-serif'>slopes</text>
<line x1="400" y1="25.5" x2="400" y2="239.5" stroke="#2a2a2a" stroke-width="1.25"/>
<line x1="400" y1="25.5" x2="678.5" y2="25.5" stroke="#2a2a2a" stroke-width="1.25"/>
<line x1="678.5" y1="25.5" x2="678.5" y2="239.5" stroke="#2a2a2a" stroke-width="1.25"/>
<line x1="400" y1="239.5" x2="678.5" y2="239.5" stroke="#2a2a2a" stroke-width="1.25"/>
<line x1="409.28" y1="239.5" x2="409.28" y2="241.7" stroke="#2a2a2a" stroke-width="1.25"/>
<line x1="409.28" y1="25.5" x2="409.28" y2="23.3" stroke="#2a2a2a" stroke-width="1.25"/>
<line x1="455.7" y1="239.5" x2="455.7" y2="243.3" stroke="#2a2a2a" stroke-width="1.25"/>
<line x1="455.7" y1="25.5" x2="455.7" y2="21.7" stroke="#2a2a2a" stroke-width="1.25"/>
<line x1="502.12" y1="239.5" x2="502.12" y2="241.7" stroke="#2a2a2a" stroke-width="1.25"/>
<line x1="502.12" y1="25.5" x2="502.12" y2="23.3" stroke="#2a2a2a" stroke-width="1.25"/>
<line x1="548.53" y1="239.5" x2="548.53" y2="243.3" stroke="#2a2a2a" stroke-width="1.25"/>
<line x1="548.53" y1="25.5" x2="548.53" y2="21.7" stroke="#2a2a2a" stroke-width="1.25"/>
<line x1="594.95" y1="239.5" x2="594.95" y2="241.7" stroke="#2a2a2a" stroke-width="1.25"/>
<line x1="594.95" y1="25.5" x2="594.95" y2="23.3" stroke="#2a2a2a" stroke-width="1.25"/>
<line x1="641.37" y1="239.5" x2="641.37" y2="243.3" stroke="#2a2a2a" stroke-width="1.25"/>
<line x1="641.37" y1="25.5" x2="641.37" y2="21.7" stroke="#2a2a2a" stroke-width="1.25"/>
<line x1="687.78" y1="239.5" x2="687.78" y2="241.7" stroke="#2a2a2a" stroke-width="1.25"/>
<line x1="687.78" y1="25.5" x2="687.78" y2="23.3" stroke="#2a2a2a" stroke-width="1.25"/>
<text transform="translate(455.7,258.5) scale(0.9,1)" font-size="16.5" text-anchor="middle" font-weight="bold" font-family='"Liberation Sans", sans-serif'>5</text>
<text transform="translate(548.53,258.5) scale(0.9,1)" font-size="16.5" text-anchor="middle" font-weight="bold" font-family='"Liberation Sans", sans-serif'>10</text>
<text transform="translate(641.37,258.5) scale(0.9,1)" font-size="16.5" text-anchor="middle" font-weight="bold" font-family='"Liberation Sans", sans-serif'>15</text>
<line x1="400" y1="239.5" x2="396.2" y2="239.5" stroke="#2a2a2a" stroke-width="1.25"/>
<line x1="678.5" y1="239.5" x2="682.3" y2="239.5" stroke="#2a2a2a" stroke-width="1.25"/>
<text transform="translate(393.3,244.9) scale(0.9,1)" font-size="16.5" text-anchor="end" font-weight="bold" font-family='"Liberation Sans", sans-serif'>-34</text>
<line x1="400" y1="226.51" x2="397.8" y2="226.51" stroke="#2a2a2a" stroke-width="1.25"/>
<line x1="678.5" y1="226.51" x2="680.7" y2="226.51" stroke="#2a2a2a" stroke-width="1.25"/>
<line x1="400" y1="213.52" x2="396.2" y2="213.52" stroke="#2a2a2a" stroke-width="1.25"/>
<line x1="678.5" y1="213.52" x2="682.3" y2="213.52" stroke="#2a2a2a" stroke-width="1.25"/>
<text transform="translate(393.3,218.92) scale(0.9,1)" font-size="16.5" text-anchor="end" font-weight="bold" font-family='"Liberation Sans", sans-serif'>-32</text>
<line x1="400" y1="200.53" x2="397.8" y2="200.53" stroke="#2a2a2a" stroke-width="1.25"/>
<line x1="678.5" y1="200.53" x2="680.7" y2="200.53" stroke="#2a2a2a" stroke-width="1.25"/>
<line x1="400" y1="187.54" x2="396.2" y2="187.54" stroke="#2a2a2a" stroke-width="1.25"/>
<line x1="678.5" y1="187.54" x2="682.3" y2="187.54" stroke="#2a2a2a" stroke-width="1.25"/>
<text transform="translate(393.3,192.94) scale(0.9,1)" font-size="16.5" text-anchor="end" font-weight="bold" font-family='"Liberation Sans", sans-serif'>-30</text>
<line x1="400" y1="174.55" x2="397.8" y2="174.55" stroke="#2a2a2a" stroke-width="1.25"/>
<line x1="678.5" y1="174.55" x2="680.7" y2="174.55" stroke="#2a2a2a" stroke-width="1.25"/>
<line x1="400" y1="161.56" x2="396.2" y2="161.56" stroke="#2a2a2a" stroke-width="1.25"/>
<line x1="678.5" y1="161.56" x2="682.3" y2="161.56" stroke="#2a2a2a" stroke-width="1.25"/>
<text transform="translate(393.3,166.96) scale(0.9,1)" font-size="16.5" text-anchor="end" font-weight="bold" font-family='"Liberation Sans", sans-serif'>-28</text>
<line x1="400" y1="148.57" x2="397.8" y2="148.57" stroke="#2a2a2a" stroke-width="1.25"/>
<line x1="678.5" y1="148.57" x2="680.7" y2="148.57" stroke="#2a2a2a" stroke-width="1.25"/>
<line x1="400" y1="135.58" x2="396.2" y2="135.58" stroke="#2a2a2a" stroke-width="1.25"/>
<line x1="678.5" y1="135.58" x2="682.3" y2="135.58" stroke="#2a2a2a" stroke-width="1.25"/>
<text transform="translate(393.3,140.98) scale(0.9,1)" font-size="16.5" text-anchor="end" font-weight="bold" font-family='"Liberation Sans", sans-serif'>-26</text>
<line x1="400" y1="122.59" x2="397.8" y2="122.59" stroke="#2a2a2a" stroke-width="1.25"/>
<line x1="678.5" y1="122.59" x2="680.7" y2="122.59" stroke="#2a2a2a" stroke-width="1.25"/>
<line x1="400" y1="109.6" x2="396.2" y2="109.6" stroke="#2a2a2a" stroke-width="1.25"/>
<line x1="678.5" y1="109.6" x2="682.3" y2="109.6" stroke="#2a2a2a" stroke-width="1.25"/>
<text transform="translate(393.3,115) scale(0.9,1)" font-size="16.5" text-anchor="end" font-weight="bold" font-family='"Liberation Sans", sans-serif'>-24</text>
<line x1="400" y1="96.61" x2="397.8" y2="96.61" stroke="#2a2a2a" stroke-width="1.25"/>
<line x1="678.5" y1="96.61" x2="680.7" y2="96.61" stroke="#2a2a2a" stroke-width="1.25"/>
<line x1="400" y1="83.62" x2="396.2" y2="83.62" stroke="#2a2a2a" stroke-width="1.25"/>
<line x1="678.5" y1="83.62" x2="682.3" y2="83.62" stroke="#2a2a2a" stroke-width="1.25"/>
<text transform="translate(393.3,89.02) scale(0.9,1)" font-size="16.5" text-anchor="end" font-weight="bold" font-family='"Liberation Sans", sans-serif'>-22</text>
<line x1="400" y1="70.63" x2="397.8" y2="70.63" stroke="#2a2a2a" stroke-width="1.25"/>
<line x1="678.5" y1="70.63" x2="680.7" y2="70.63" stroke="#2a2a2a" stroke-width="1.25"/>
<line x1="400" y1="57.64" x2="396.2" y2="57.64" stroke="#2a2a2a" stroke-width="1.25"/>
<line x1="678.5" y1="57.64" x2="682.3" y2="57.64" stroke="#2a2a2a" stroke-width="1.25"/>
<text transform="translate(393.3,63.04) scale(0.9,1)" font-size="16.5" text-anchor="end" font-weight="bold" font-family='"Liberation Sans", sans-serif'>-20</text>
<line x1="400" y1="44.65" x2="397.8" y2="44.65" stroke="#2a2a2a" stroke-width="1.25"/>
<line x1="678.5" y1="44.65" x2="680.7" y2="44.65" stroke="#2a2a2a" stroke-width="1.25"/>
<line x1="400" y1="31.66" x2="396.2" y2="31.66" stroke="#2a2a2a" stroke-width="1.25"/>
<line x1="678.5" y1="31.66" x2="682.3" y2="31.66" stroke="#2a2a2a" stroke-width="1.25"/>
<text transform="translate(393.3,37.06) scale(0.9,1)" font-size="16.5" text-anchor="end" font-weight="bold" font-family='"Liberation Sans", sans-serif'>-18</text>
<text x="538.6" y="277.4" font-size="18" text-anchor="middle" fill="#000" font-weight="bold" font-family='"Liberation Sans", sans-serif'>1000/T</text>
<text transform="translate(362.8,162.3) rotate(-90)" font-size="18" font-weight="bold" font-family='"Liberation Sans", sans-serif'>ln(I<tspan font-size="13" dy="4.6">DS</tspan><tspan dy="-4.6">/T</tspan><tspan font-size="13.5" dy="-7.3">2</tspan><tspan dy="7.3" dx="0.6">)</tspan></text>
<text x="0" y="289.3" font-size="19" text-anchor="start" fill="#000" font-weight="bold" font-family='"Liberation Sans", sans-serif'>c)</text>
<line x1="83.6" y1="351.22" x2="105.69" y2="339.74" stroke="#ff0000" stroke-width="2"/>
<line x1="114.02" y1="340.97" x2="137.89" y2="364.3" stroke="#ff0000" stroke-width="2"/>
<line x1="146.81" y1="368.12" x2="167.73" y2="368.87" stroke="#ff0000" stroke-width="2"/>
<line x1="177.72" y1="367.03" x2="207.28" y2="354.52" stroke="#ff0000" stroke-width="2"/>
<line x1="217.27" y1="352.49" x2="246.01" y2="352.49" stroke="#ff0000" stroke-width="2"/>
<line x1="256" y1="354.52" x2="285.57" y2="367.03" stroke="#ff0000" stroke-width="2"/>
<circle cx="78.99" cy="353.62" r="4.2" fill="url(#g12)"/>
<circle cx="110.3" cy="337.34" r="4.2" fill="url(#g12)"/>
<circle cx="141.61" cy="367.93" r="4.2" fill="url(#g12)"/>
<circle cx="172.93" cy="369.05" r="4.2" fill="url(#g12)"/>
<circle cx="212.07" cy="352.49" r="4.2" fill="url(#g12)"/>
<circle cx="251.21" cy="352.49" r="4.2" fill="url(#g12)"/>
<circle cx="290.36" cy="369.05" r="4.2" fill="url(#g12)"/>
<line x1="83.27" y1="468.54" x2="106.02" y2="452.84" stroke="#000" stroke-width="2"/>
<line x1="114.57" y1="446.92" x2="137.34" y2="431.1" stroke="#000" stroke-width="2"/>
<line x1="145.89" y1="425.17" x2="168.66" y2="409.35" stroke="#000" stroke-width="2"/>
<line x1="177.2" y1="403.42" x2="207.8" y2="382.26" stroke="#000" stroke-width="2"/>
<line x1="216.35" y1="376.34" x2="246.94" y2="355.17" stroke="#000" stroke-width="2"/>
<line x1="255.48" y1="349.24" x2="286.09" y2="327.96" stroke="#000" stroke-width="2"/>
<circle cx="78.99" cy="471.5" r="4.2" fill="url(#g13)"/>
<circle cx="110.3" cy="449.89" r="4.2" fill="url(#g13)"/>
<circle cx="141.61" cy="428.13" r="4.2" fill="url(#g13)"/>
<circle cx="172.93" cy="406.38" r="4.2" fill="url(#g13)"/>
<circle cx="212.07" cy="379.3" r="4.2" fill="url(#g13)"/>
<circle cx="251.21" cy="352.21" r="4.2" fill="url(#g13)"/>
<circle cx="290.36" cy="324.99" r="4.2" fill="url(#g13)"/>
<line x1="137.2" y1="421.5" x2="137.2" y2="385" stroke="#1d6a8c" stroke-width="2.7"/>
<polygon points="137.2,377.8 132.5,387.2 141.9,387.2" fill="#1d6a8c"/>
<text x="106.8" y="412" font-size="22" font-weight="bold" fill="#1f5c9e" font-family='"Liberation Sans", sans-serif'>D<tspan font-size="16" dx="0.8" dy="5.8">it</tspan></text>
<text x="121.4" y="324.9" font-size="13.4" font-weight="bold" fill="#ff0000" font-family='"Liberation Sans", sans-serif'>D<tspan font-size="9.8" dy="3.3">it</tspan><tspan dy="-3.3"> (T) &#8800; constant</tspan></text>
<g stroke="#ff0000" stroke-width="1.3" fill="none"><line x1="121.9" y1="336.9" x2="133.1" y2="336.9"/><line x1="121.9" y1="340.9" x2="133.1" y2="340.9"/><polyline points="129.9,334.8 135.5,338.9 129.9,343"/></g>
<text x="138.95" y="341.8" font-size="14" fill="#ff0000" font-family='"Liberation Serif", serif' font-style="italic" font-weight="bold">SS</text>
<text x="158.5" y="341.8" font-size="15" fill="#ff0000" font-family='"Liberation Serif", serif'>&#945;</text>
<text x="170.2" y="341.8" font-size="14" fill="#ff0000" font-family='"Liberation Serif", serif' font-style="italic" font-weight="bold">T</text>
<text x="185.9" y="345.1" font-size="14" fill="#ff0000" font-family='"Liberation Serif", serif'>*</text>
<text x="196.1" y="341.8" font-size="15.5" fill="#ff0000" font-family='"Liberation Serif", serif' font-style="italic" font-weight="bold">f</text>
<text x="204.2" y="341.8" font-size="14" fill="#ff0000" font-family='"Liberation Serif", serif'>(</text>
<text x="209.5" y="341.8" font-size="14" fill="#ff0000" font-family='"Liberation Serif", serif' font-style="italic" font-weight="bold">T</text>
<text x="219.5" y="341.8" font-size="14" fill="#ff0000" font-family='"Liberation Serif", serif'>)</text>
<text x="149.6" y="441.9" font-size="13.4" font-weight="bold" fill="#000" font-family='"Liberation Sans", sans-serif'>D<tspan font-size="9.8" dy="3.3">it</tspan><tspan dy="-3.3"> (T) = constant</tspan></text>
<g stroke="#000" stroke-width="1.3" fill="none"><line x1="149.9" y1="453.3" x2="161.1" y2="453.3"/><line x1="149.9" y1="457.3" x2="161.1" y2="457.3"/><polyline points="157.9,451.2 163.5,455.3 157.9,459.4"/></g>
<text x="166.95" y="458.2" font-size="14" fill="#000" font-family='"Liberation Serif", serif' font-style="italic" font-weight="bold">SS</text>
<text x="186.5" y="458.2" font-size="15" fill="#000" font-family='"Liberation Serif", serif'>&#945;</text>
<text x="198.2" y="458.2" font-size="14" fill="#000" font-family='"Liberation Serif", serif' font-style="italic" font-weight="bold">T</text>
<line x1="209.5" y1="489.2" x2="218.5" y2="489.2" stroke="#ff0000" stroke-width="2"/>
<line x1="230.6" y1="489.2" x2="240.4" y2="489.2" stroke="#ff0000" stroke-width="2"/>
<circle cx="224.6" cy="489.2" r="4.2" fill="url(#g12)"/>
<text x="244.5" y="493.7" font-size="13.5" text-anchor="start" fill="#000" font-weight="bold" font-family='"Liberation Sans", sans-serif'>extracted SS</text>
<line x1="209.5" y1="505.9" x2="218.5" y2="505.9" stroke="#000" stroke-width="2"/>
<line x1="230.6" y1="505.9" x2="240.4" y2="505.9" stroke="#000" stroke-width="2"/>
<circle cx="224.6" cy="505.9" r="4.2" fill="url(#g13)"/>
<text x="244.5" y="510.1" font-size="13.5" text-anchor="start" fill="#000" font-weight="bold" font-family='"Liberation Sans", sans-serif'>expected SS</text>
<line x1="55.5" y1="304.5" x2="55.5" y2="515" stroke="#2a2a2a" stroke-width="1.25"/>
<line x1="55.5" y1="304.5" x2="329.5" y2="304.5" stroke="#2a2a2a" stroke-width="1.25"/>
<line x1="329.5" y1="304.5" x2="329.5" y2="515" stroke="#2a2a2a" stroke-width="1.25"/>
<line x1="55.5" y1="515" x2="329.5" y2="515" stroke="#2a2a2a" stroke-width="1.25"/>
<line x1="55.5" y1="515" x2="55.5" y2="517.2" stroke="#2a2a2a" stroke-width="1.25"/>
<line x1="55.5" y1="304.5" x2="55.5" y2="302.3" stroke="#2a2a2a" stroke-width="1.25"/>
<line x1="94.64" y1="515" x2="94.64" y2="518.8" stroke="#2a2a2a" stroke-width="1.25"/>
<line x1="94.64" y1="304.5" x2="94.64" y2="300.7" stroke="#2a2a2a" stroke-width="1.25"/>
<line x1="133.79" y1="515" x2="133.79" y2="517.2" stroke="#2a2a2a" stroke-width="1.25"/>
<line x1="133.79" y1="304.5" x2="133.79" y2="302.3" stroke="#2a2a2a" stroke-width="1.25"/>
<line x1="172.93" y1="515" x2="172.93" y2="518.8" stroke="#2a2a2a" stroke-width="1.25"/>
<line x1="172.93" y1="304.5" x2="172.93" y2="300.7" stroke="#2a2a2a" stroke-width="1.25"/>
<line x1="212.07" y1="515" x2="212.07" y2="517.2" stroke="#2a2a2a" stroke-width="1.25"/>
<line x1="212.07" y1="304.5" x2="212.07" y2="302.3" stroke="#2a2a2a" stroke-width="1.25"/>
<line x1="251.21" y1="515" x2="251.21" y2="518.8" stroke="#2a2a2a" stroke-width="1.25"/>
<line x1="251.21" y1="304.5" x2="251.21" y2="300.7" stroke="#2a2a2a" stroke-width="1.25"/>
<line x1="290.36" y1="515" x2="290.36" y2="517.2" stroke="#2a2a2a" stroke-width="1.25"/>
<line x1="290.36" y1="304.5" x2="290.36" y2="302.3" stroke="#2a2a2a" stroke-width="1.25"/>
<line x1="329.5" y1="515" x2="329.5" y2="518.8" stroke="#2a2a2a" stroke-width="1.25"/>
<line x1="329.5" y1="304.5" x2="329.5" y2="300.7" stroke="#2a2a2a" stroke-width="1.25"/>
<text transform="translate(94.64,534) scale(0.9,1)" font-size="16.5" text-anchor="middle" font-weight="bold" font-family='"Liberation Sans", sans-serif'>100</text>
<text transform="translate(172.93,534) scale(0.9,1)" font-size="16.5" text-anchor="middle" font-weight="bold" font-family='"Liberation Sans", sans-serif'>200</text>
<text transform="translate(251.21,534) scale(0.9,1)" font-size="16.5" text-anchor="middle" font-weight="bold" font-family='"Liberation Sans", sans-serif'>300</text>
<text transform="translate(329.5,534) scale(0.9,1)" font-size="16.5" text-anchor="middle" font-weight="bold" font-family='"Liberation Sans", sans-serif'>400</text>
<line x1="55.5" y1="515" x2="51.7" y2="515" stroke="#2a2a2a" stroke-width="1.25"/>
<line x1="329.5" y1="515" x2="333.3" y2="515" stroke="#2a2a2a" stroke-width="1.25"/>
<text transform="translate(48.6,520.4) scale(0.9,1)" font-size="16.5" text-anchor="end" font-weight="bold" font-family='"Liberation Sans", sans-serif'>0</text>
<line x1="55.5" y1="493.95" x2="53.3" y2="493.95" stroke="#2a2a2a" stroke-width="1.25"/>
<line x1="329.5" y1="493.95" x2="331.7" y2="493.95" stroke="#2a2a2a" stroke-width="1.25"/>
<line x1="55.5" y1="472.9" x2="51.7" y2="472.9" stroke="#2a2a2a" stroke-width="1.25"/>
<line x1="329.5" y1="472.9" x2="333.3" y2="472.9" stroke="#2a2a2a" stroke-width="1.25"/>
<text transform="translate(48.6,478.3) scale(0.9,1)" font-size="16.5" text-anchor="end" font-weight="bold" font-family='"Liberation Sans", sans-serif'>30</text>
<line x1="55.5" y1="451.85" x2="53.3" y2="451.85" stroke="#2a2a2a" stroke-width="1.25"/>
<line x1="329.5" y1="451.85" x2="331.7" y2="451.85" stroke="#2a2a2a" stroke-width="1.25"/>
<line x1="55.5" y1="430.8" x2="51.7" y2="430.8" stroke="#2a2a2a" stroke-width="1.25"/>
<line x1="329.5" y1="430.8" x2="333.3" y2="430.8" stroke="#2a2a2a" stroke-width="1.25"/>
<text transform="translate(48.6,436.2) scale(0.9,1)" font-size="16.5" text-anchor="end" font-weight="bold" font-family='"Liberation Sans", sans-serif'>60</text>
<line x1="55.5" y1="409.75" x2="53.3" y2="409.75" stroke="#2a2a2a" stroke-width="1.25"/>
<line x1="329.5" y1="409.75" x2="331.7" y2="409.75" stroke="#2a2a2a" stroke-width="1.25"/>
<line x1="55.5" y1="388.7" x2="51.7" y2="388.7" stroke="#2a2a2a" stroke-width="1.25"/>
<line x1="329.5" y1="388.7" x2="333.3" y2="388.7" stroke="#2a2a2a" stroke-width="1.25"/>
<text transform="translate(48.6,394.1) scale(0.9,1)" font-size="16.5" text-anchor="end" font-weight="bold" font-family='"Liberation Sans", sans-serif'>90</text>
<line x1="55.5" y1="367.65" x2="53.3" y2="367.65" stroke="#2a2a2a" stroke-width="1.25"/>
<line x1="329.5" y1="367.65" x2="331.7" y2="367.65" stroke="#2a2a2a" stroke-width="1.25"/>
<line x1="55.5" y1="346.6" x2="51.7" y2="346.6" stroke="#2a2a2a" stroke-width="1.25"/>
<line x1="329.5" y1="346.6" x2="333.3" y2="346.6" stroke="#2a2a2a" stroke-width="1.25"/>
<text transform="translate(48.6,352) scale(0.9,1)" font-size="16.5" text-anchor="end" font-weight="bold" font-family='"Liberation Sans", sans-serif'>120</text>
<line x1="55.5" y1="325.55" x2="53.3" y2="325.55" stroke="#2a2a2a" stroke-width="1.25"/>
<line x1="329.5" y1="325.55" x2="331.7" y2="325.55" stroke="#2a2a2a" stroke-width="1.25"/>
<line x1="55.5" y1="304.5" x2="51.7" y2="304.5" stroke="#2a2a2a" stroke-width="1.25"/>
<line x1="329.5" y1="304.5" x2="333.3" y2="304.5" stroke="#2a2a2a" stroke-width="1.25"/>
<text transform="translate(48.6,309.9) scale(0.9,1)" font-size="16.5" text-anchor="end" font-weight="bold" font-family='"Liberation Sans", sans-serif'>150</text>
<text x="191" y="552.5" font-size="18" text-anchor="middle" fill="#000" font-weight="bold" font-family='"Liberation Sans", sans-serif'>Temperature (K)</text>
<text transform="translate(22.6,456.5) rotate(-90)" font-size="18" font-weight="bold" font-family='"Liberation Sans", sans-serif'>SS (mV/dec)</text>
<text x="346.5" y="289.3" font-size="19" text-anchor="start" fill="#000" font-weight="bold" font-family='"Liberation Sans", sans-serif'>d)</text>
<circle cx="432.79" cy="336.73" r="4.2" fill="url(#g12)"/>
<circle cx="466.52" cy="356.55" r="4.2" fill="url(#g12)"/>
<circle cx="500.24" cy="390.31" r="4.2" fill="url(#g12)"/>
<circle cx="533.96" cy="409.7" r="4.2" fill="url(#g12)"/>
<circle cx="576.12" cy="420.06" r="4.2" fill="url(#g12)"/>
<circle cx="618.27" cy="438.27" r="4.2" fill="url(#g12)"/>
<circle cx="660.42" cy="473.46" r="4.2" fill="url(#g12)"/>
<line x1="407.5" y1="303.5" x2="407.5" y2="514.5" stroke="#2a2a2a" stroke-width="1.25"/>
<line x1="407.5" y1="303.5" x2="681.5" y2="303.5" stroke="#2a2a2a" stroke-width="1.25"/>
<line x1="681.5" y1="303.5" x2="681.5" y2="514.5" stroke="#2a2a2a" stroke-width="1.25"/>
<line x1="407.5" y1="514.5" x2="681.5" y2="514.5" stroke="#2a2a2a" stroke-width="1.25"/>
<line x1="407.5" y1="514.5" x2="407.5" y2="518.3" stroke="#2a2a2a" stroke-width="1.25"/>
<line x1="407.5" y1="303.5" x2="407.5" y2="299.7" stroke="#2a2a2a" stroke-width="1.25"/>
<line x1="428.58" y1="514.5" x2="428.58" y2="516.7" stroke="#2a2a2a" stroke-width="1.25"/>
<line x1="428.58" y1="303.5" x2="428.58" y2="301.3" stroke="#2a2a2a" stroke-width="1.25"/>
<line x1="449.65" y1="514.5" x2="449.65" y2="518.3" stroke="#2a2a2a" stroke-width="1.25"/>
<line x1="449.65" y1="303.5" x2="449.65" y2="299.7" stroke="#2a2a2a" stroke-width="1.25"/>
<line x1="470.73" y1="514.5" x2="470.73" y2="516.7" stroke="#2a2a2a" stroke-width="1.25"/>
<line x1="470.73" y1="303.5" x2="470.73" y2="301.3" stroke="#2a2a2a" stroke-width="1.25"/>
<line x1="491.81" y1="514.5" x2="491.81" y2="518.3" stroke="#2a2a2a" stroke-width="1.25"/>
<line x1="491.81" y1="303.5" x2="491.81" y2="299.7" stroke="#2a2a2a" stroke-width="1.25"/>
<line x1="512.88" y1="514.5" x2="512.88" y2="516.7" stroke="#2a2a2a" stroke-width="1.25"/>
<line x1="512.88" y1="303.5" x2="512.88" y2="301.3" stroke="#2a2a2a" stroke-width="1.25"/>
<line x1="533.96" y1="514.5" x2="533.96" y2="518.3" stroke="#2a2a2a" stroke-width="1.25"/>
<line x1="533.96" y1="303.5" x2="533.96" y2="299.7" stroke="#2a2a2a" stroke-width="1.25"/>
<line x1="555.04" y1="514.5" x2="555.04" y2="516.7" stroke="#2a2a2a" stroke-width="1.25"/>
<line x1="555.04" y1="303.5" x2="555.04" y2="301.3" stroke="#2a2a2a" stroke-width="1.25"/>
<line x1="576.12" y1="514.5" x2="576.12" y2="518.3" stroke="#2a2a2a" stroke-width="1.25"/>
<line x1="576.12" y1="303.5" x2="576.12" y2="299.7" stroke="#2a2a2a" stroke-width="1.25"/>
<line x1="597.19" y1="514.5" x2="597.19" y2="516.7" stroke="#2a2a2a" stroke-width="1.25"/>
<line x1="597.19" y1="303.5" x2="597.19" y2="301.3" stroke="#2a2a2a" stroke-width="1.25"/>
<line x1="618.27" y1="514.5" x2="618.27" y2="518.3" stroke="#2a2a2a" stroke-width="1.25"/>
<line x1="618.27" y1="303.5" x2="618.27" y2="299.7" stroke="#2a2a2a" stroke-width="1.25"/>
<line x1="639.35" y1="514.5" x2="639.35" y2="516.7" stroke="#2a2a2a" stroke-width="1.25"/>
<line x1="639.35" y1="303.5" x2="639.35" y2="301.3" stroke="#2a2a2a" stroke-width="1.25"/>
<line x1="660.42" y1="514.5" x2="660.42" y2="518.3" stroke="#2a2a2a" stroke-width="1.25"/>
<line x1="660.42" y1="303.5" x2="660.42" y2="299.7" stroke="#2a2a2a" stroke-width="1.25"/>
<line x1="681.5" y1="514.5" x2="681.5" y2="516.7" stroke="#2a2a2a" stroke-width="1.25"/>
<line x1="681.5" y1="303.5" x2="681.5" y2="301.3" stroke="#2a2a2a" stroke-width="1.25"/>
<text transform="translate(407.5,533.4) scale(0.9,1)" font-size="16.5" text-anchor="middle" font-weight="bold" font-family='"Liberation Sans", sans-serif'>50</text>
<text transform="translate(449.65,533.4) scale(0.9,1)" font-size="16.5" text-anchor="middle" font-weight="bold" font-family='"Liberation Sans", sans-serif'>100</text>
<text transform="translate(491.81,533.4) scale(0.9,1)" font-size="16.5" text-anchor="middle" font-weight="bold" font-family='"Liberation Sans", sans-serif'>150</text>
<text transform="translate(533.96,533.4) scale(0.9,1)" font-size="16.5" text-anchor="middle" font-weight="bold" font-family='"Liberation Sans", sans-serif'>200</text>
<text transform="translate(576.12,533.4) scale(0.9,1)" font-size="16.5" text-anchor="middle" font-weight="bold" font-family='"Liberation Sans", sans-serif'>250</text>
<text transform="translate(618.27,533.4) scale(0.9,1)" font-size="16.5" text-anchor="middle" font-weight="bold" font-family='"Liberation Sans", sans-serif'>300</text>
<text transform="translate(660.42,533.4) scale(0.9,1)" font-size="16.5" text-anchor="middle" font-weight="bold" font-family='"Liberation Sans", sans-serif'>350</text>
<line x1="407.5" y1="514.5" x2="403.8" y2="514.5" stroke="#2a2a2a" stroke-width="1.25"/>
<line x1="681.5" y1="514.5" x2="685.2" y2="514.5" stroke="#2a2a2a" stroke-width="1.25"/>
<line x1="407.5" y1="477.11" x2="405.5" y2="477.11" stroke="#2a2a2a" stroke-width="1.25"/>
<line x1="681.5" y1="477.11" x2="683.5" y2="477.11" stroke="#2a2a2a" stroke-width="1.25"/>
<line x1="407.5" y1="455.24" x2="405.5" y2="455.24" stroke="#2a2a2a" stroke-width="1.25"/>
<line x1="681.5" y1="455.24" x2="683.5" y2="455.24" stroke="#2a2a2a" stroke-width="1.25"/>
<line x1="407.5" y1="439.73" x2="405.5" y2="439.73" stroke="#2a2a2a" stroke-width="1.25"/>
<line x1="681.5" y1="439.73" x2="683.5" y2="439.73" stroke="#2a2a2a" stroke-width="1.25"/>
<line x1="407.5" y1="427.69" x2="405.5" y2="427.69" stroke="#2a2a2a" stroke-width="1.25"/>
<line x1="681.5" y1="427.69" x2="683.5" y2="427.69" stroke="#2a2a2a" stroke-width="1.25"/>
<line x1="407.5" y1="417.86" x2="405.5" y2="417.86" stroke="#2a2a2a" stroke-width="1.25"/>
<line x1="681.5" y1="417.86" x2="683.5" y2="417.86" stroke="#2a2a2a" stroke-width="1.25"/>
<line x1="407.5" y1="409.54" x2="405.5" y2="409.54" stroke="#2a2a2a" stroke-width="1.25"/>
<line x1="681.5" y1="409.54" x2="683.5" y2="409.54" stroke="#2a2a2a" stroke-width="1.25"/>
<line x1="407.5" y1="402.34" x2="405.5" y2="402.34" stroke="#2a2a2a" stroke-width="1.25"/>
<line x1="681.5" y1="402.34" x2="683.5" y2="402.34" stroke="#2a2a2a" stroke-width="1.25"/>
<line x1="407.5" y1="395.99" x2="405.5" y2="395.99" stroke="#2a2a2a" stroke-width="1.25"/>
<line x1="681.5" y1="395.99" x2="683.5" y2="395.99" stroke="#2a2a2a" stroke-width="1.25"/>
<line x1="407.5" y1="390.31" x2="403.8" y2="390.31" stroke="#2a2a2a" stroke-width="1.25"/>
<line x1="681.5" y1="390.31" x2="685.2" y2="390.31" stroke="#2a2a2a" stroke-width="1.25"/>
<line x1="407.5" y1="352.92" x2="405.5" y2="352.92" stroke="#2a2a2a" stroke-width="1.25"/>
<line x1="681.5" y1="352.92" x2="683.5" y2="352.92" stroke="#2a2a2a" stroke-width="1.25"/>
<line x1="407.5" y1="331.05" x2="405.5" y2="331.05" stroke="#2a2a2a" stroke-width="1.25"/>
<line x1="681.5" y1="331.05" x2="683.5" y2="331.05" stroke="#2a2a2a" stroke-width="1.25"/>
<line x1="407.5" y1="315.54" x2="405.5" y2="315.54" stroke="#2a2a2a" stroke-width="1.25"/>
<line x1="681.5" y1="315.54" x2="683.5" y2="315.54" stroke="#2a2a2a" stroke-width="1.25"/>
<line x1="407.5" y1="303.5" x2="405.5" y2="303.5" stroke="#2a2a2a" stroke-width="1.25"/>
<line x1="681.5" y1="303.5" x2="683.5" y2="303.5" stroke="#2a2a2a" stroke-width="1.25"/>
<text transform="translate(400.8,397.11) scale(0.9,1)" font-size="16.5" text-anchor="end" font-weight="bold" font-family='"Liberation Sans", sans-serif'>10<tspan font-size="10" dy="-6.5">13</tspan></text>
<text transform="translate(400.8,521.3) scale(0.9,1)" font-size="16.5" text-anchor="end" font-weight="bold" font-family='"Liberation Sans", sans-serif'>10<tspan font-size="10" dy="-6.5">12</tspan></text>
<text x="542.3" y="552.3" font-size="18" text-anchor="middle" fill="#000" font-weight="bold" font-family='"Liberation Sans", sans-serif'>Temperature (K)</text>
<text transform="translate(368,458.5) rotate(-90)" font-size="18" font-weight="bold" font-family='"Liberation Sans", sans-serif'>D<tspan font-size="13" dy="4.6">it</tspan><tspan dy="-4.6"> (eV</tspan><tspan font-size="13" dy="-7">-1</tspan><tspan dy="7">cm</tspan><tspan font-size="13" dy="-7">-2</tspan><tspan dy="7">)</tspan></text>
</svg>
</body></html>
